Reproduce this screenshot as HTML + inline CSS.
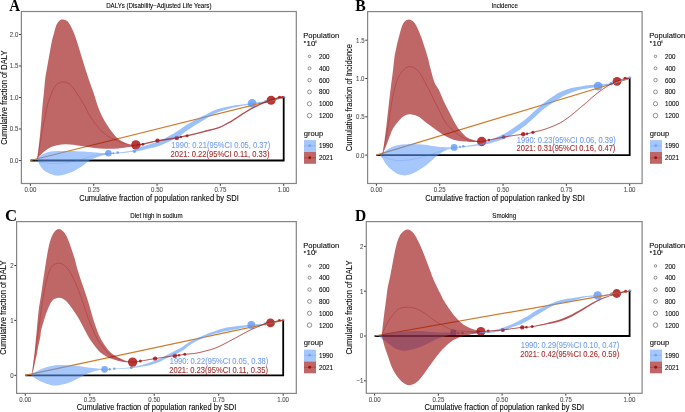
<!DOCTYPE html>
<html><head><meta charset="utf-8"><style>
html,body{margin:0;padding:0;background:#fff;width:685px;height:412px;overflow:hidden;}
svg{display:block;will-change:transform;font-family:"Liberation Sans",sans-serif;}
</style></head><body>
<svg width="685" height="412" viewBox="0 0 685 412">
<rect width="685" height="412" fill="#fff"/>
<clipPath id="clipA"><rect x="21.40" y="11.50" width="274.90" height="172.00"/></clipPath>
<g clip-path="url(#clipA)">
<circle cx="108.40" cy="153.30" r="3.30" fill="#7eacf9"/>
<circle cx="113.30" cy="153.20" r="1.00" fill="#7eacf9"/>
<circle cx="117.80" cy="152.60" r="1.30" fill="#7eacf9"/>
<circle cx="134.40" cy="151.20" r="1.70" fill="#7eacf9"/>
<circle cx="252.10" cy="103.30" r="4.30" fill="#7eacf9"/>
<circle cx="265.70" cy="101.50" r="1.60" fill="#7eacf9"/>
<circle cx="283.80" cy="97.20" r="1.50" fill="#7eacf9"/>
<circle cx="135.90" cy="144.90" r="4.70" fill="#b83838"/>
<circle cx="142.90" cy="144.30" r="1.40" fill="#b83838"/>
<circle cx="157.50" cy="140.70" r="2.20" fill="#b83838"/>
<circle cx="176.80" cy="137.90" r="2.20" fill="#b83838"/>
<circle cx="180.80" cy="136.90" r="1.20" fill="#b83838"/>
<circle cx="187.10" cy="135.70" r="1.50" fill="#b83838"/>
<circle cx="271.10" cy="100.20" r="4.50" fill="#b83838"/>
<circle cx="279.50" cy="97.30" r="1.60" fill="#b83838"/>
<circle cx="282.40" cy="97.30" r="1.20" fill="#b83838"/>
<polyline points="30.40,160.50 283.70,160.50 283.70,97.50" fill="none" stroke="#000" stroke-width="1.8" stroke-linejoin="miter"/>
<line x1="30.40" y1="160.50" x2="283.70" y2="97.50" stroke="#cf7a2c" stroke-width="1.25"/>
<path d="M34.80,160.20 C35.22,159.97 36.43,159.50 37.30,158.80 C38.17,158.10 38.88,156.87 40.00,156.00 C41.12,155.13 42.53,154.27 44.00,153.60 C45.47,152.93 46.55,152.42 48.80,152.00 C51.05,151.58 54.00,151.28 57.50,151.10 C61.00,150.92 65.42,150.83 69.80,150.90 C74.18,150.97 80.02,151.27 83.80,151.50 C87.58,151.73 89.68,152.07 92.50,152.30 C95.32,152.53 98.03,152.78 100.70,152.90 C103.37,153.02 105.62,153.07 108.50,153.00 C111.38,152.93 114.75,152.78 118.00,152.50 C121.25,152.22 125.33,151.73 128.00,151.30 C130.67,150.87 132.00,150.57 134.00,149.90 C136.00,149.23 137.33,148.25 140.00,147.30 C142.67,146.35 147.12,145.08 150.00,144.20 C152.88,143.32 154.87,142.93 157.30,142.00 C159.73,141.07 162.18,139.83 164.60,138.60 C167.02,137.37 169.23,136.13 171.80,134.60 C174.37,133.07 177.63,130.97 180.00,129.40 C182.37,127.83 184.00,126.48 186.00,125.20 C188.00,123.92 190.00,122.80 192.00,121.70 C194.00,120.60 196.03,119.62 198.00,118.60 C199.97,117.58 201.80,116.63 203.80,115.60 C205.80,114.57 207.30,113.57 210.00,112.40 C212.70,111.23 216.67,109.63 220.00,108.60 C223.33,107.57 226.67,106.83 230.00,106.20 C233.33,105.57 237.00,105.22 240.00,104.80 C243.00,104.38 245.33,104.07 248.00,103.70 C250.67,103.33 253.00,103.05 256.00,102.60 C259.00,102.15 262.83,101.57 266.00,101.00 C269.17,100.43 272.05,99.85 275.00,99.20 C277.95,98.55 282.25,97.45 283.70,97.10 L283.70,97.50 C282.25,97.88 277.95,99.05 275.00,99.80 C272.05,100.55 269.17,101.37 266.00,102.00 C262.83,102.63 259.00,103.08 256.00,103.60 C253.00,104.12 250.67,104.65 248.00,105.10 C245.33,105.55 243.00,105.73 240.00,106.30 C237.00,106.87 233.33,107.62 230.00,108.50 C226.67,109.38 223.33,110.32 220.00,111.60 C216.67,112.88 212.70,114.80 210.00,116.20 C207.30,117.60 205.80,118.80 203.80,120.00 C201.80,121.20 199.97,122.20 198.00,123.40 C196.03,124.60 194.00,125.88 192.00,127.20 C190.00,128.52 188.00,129.85 186.00,131.30 C184.00,132.75 182.37,134.40 180.00,135.90 C177.63,137.40 174.37,139.05 171.80,140.30 C169.23,141.55 167.02,142.37 164.60,143.40 C162.18,144.43 159.73,145.68 157.30,146.50 C154.87,147.32 152.88,147.60 150.00,148.30 C147.12,149.00 142.67,150.15 140.00,150.70 C137.33,151.25 136.00,151.32 134.00,151.60 C132.00,151.88 130.67,152.10 128.00,152.40 C125.33,152.70 121.25,153.10 118.00,153.40 C114.75,153.70 110.83,153.90 108.50,154.20 C106.17,154.50 105.85,154.72 104.00,155.20 C102.15,155.68 99.90,156.17 97.40,157.10 C94.90,158.03 91.27,159.47 89.00,160.80 C86.73,162.13 85.30,163.97 83.80,165.10 C82.30,166.23 81.47,166.72 80.00,167.60 C78.53,168.48 77.28,169.33 75.00,170.40 C72.72,171.47 68.63,173.18 66.30,174.00 C63.97,174.82 62.75,175.05 61.00,175.30 C59.25,175.55 57.83,175.85 55.80,175.50 C53.77,175.15 50.77,174.03 48.80,173.20 C46.83,172.37 45.47,171.78 44.00,170.50 C42.53,169.22 40.92,166.92 40.00,165.50 C39.08,164.08 38.95,162.88 38.50,162.00 C38.05,161.12 37.92,160.43 37.30,160.20 C36.68,159.97 35.22,160.53 34.80,160.60 Z" fill="#5f9bf8" fill-opacity="0.560"/>
<clipPath id="bxA"><rect x="136.00" y="11.50" width="160.30" height="172.00"/></clipPath>
<path d="M34.80,160.20 C35.22,159.97 36.43,159.50 37.30,158.80 C38.17,158.10 38.88,156.87 40.00,156.00 C41.12,155.13 42.53,154.27 44.00,153.60 C45.47,152.93 46.55,152.42 48.80,152.00 C51.05,151.58 54.00,151.28 57.50,151.10 C61.00,150.92 65.42,150.83 69.80,150.90 C74.18,150.97 80.02,151.27 83.80,151.50 C87.58,151.73 89.68,152.07 92.50,152.30 C95.32,152.53 98.03,152.78 100.70,152.90 C103.37,153.02 105.62,153.07 108.50,153.00 C111.38,152.93 114.75,152.78 118.00,152.50 C121.25,152.22 125.33,151.73 128.00,151.30 C130.67,150.87 132.00,150.57 134.00,149.90 C136.00,149.23 137.33,148.25 140.00,147.30 C142.67,146.35 147.12,145.08 150.00,144.20 C152.88,143.32 154.87,142.93 157.30,142.00 C159.73,141.07 162.18,139.83 164.60,138.60 C167.02,137.37 169.23,136.13 171.80,134.60 C174.37,133.07 177.63,130.97 180.00,129.40 C182.37,127.83 184.00,126.48 186.00,125.20 C188.00,123.92 190.00,122.80 192.00,121.70 C194.00,120.60 196.03,119.62 198.00,118.60 C199.97,117.58 201.80,116.63 203.80,115.60 C205.80,114.57 207.30,113.57 210.00,112.40 C212.70,111.23 216.67,109.63 220.00,108.60 C223.33,107.57 226.67,106.83 230.00,106.20 C233.33,105.57 237.00,105.22 240.00,104.80 C243.00,104.38 245.33,104.07 248.00,103.70 C250.67,103.33 253.00,103.05 256.00,102.60 C259.00,102.15 262.83,101.57 266.00,101.00 C269.17,100.43 272.05,99.85 275.00,99.20 C277.95,98.55 282.25,97.45 283.70,97.10 L283.70,97.50 C282.25,97.88 277.95,99.05 275.00,99.80 C272.05,100.55 269.17,101.37 266.00,102.00 C262.83,102.63 259.00,103.08 256.00,103.60 C253.00,104.12 250.67,104.65 248.00,105.10 C245.33,105.55 243.00,105.73 240.00,106.30 C237.00,106.87 233.33,107.62 230.00,108.50 C226.67,109.38 223.33,110.32 220.00,111.60 C216.67,112.88 212.70,114.80 210.00,116.20 C207.30,117.60 205.80,118.80 203.80,120.00 C201.80,121.20 199.97,122.20 198.00,123.40 C196.03,124.60 194.00,125.88 192.00,127.20 C190.00,128.52 188.00,129.85 186.00,131.30 C184.00,132.75 182.37,134.40 180.00,135.90 C177.63,137.40 174.37,139.05 171.80,140.30 C169.23,141.55 167.02,142.37 164.60,143.40 C162.18,144.43 159.73,145.68 157.30,146.50 C154.87,147.32 152.88,147.60 150.00,148.30 C147.12,149.00 142.67,150.15 140.00,150.70 C137.33,151.25 136.00,151.32 134.00,151.60 C132.00,151.88 130.67,152.10 128.00,152.40 C125.33,152.70 121.25,153.10 118.00,153.40 C114.75,153.70 110.83,153.90 108.50,154.20 C106.17,154.50 105.85,154.72 104.00,155.20 C102.15,155.68 99.90,156.17 97.40,157.10 C94.90,158.03 91.27,159.47 89.00,160.80 C86.73,162.13 85.30,163.97 83.80,165.10 C82.30,166.23 81.47,166.72 80.00,167.60 C78.53,168.48 77.28,169.33 75.00,170.40 C72.72,171.47 68.63,173.18 66.30,174.00 C63.97,174.82 62.75,175.05 61.00,175.30 C59.25,175.55 57.83,175.85 55.80,175.50 C53.77,175.15 50.77,174.03 48.80,173.20 C46.83,172.37 45.47,171.78 44.00,170.50 C42.53,169.22 40.92,166.92 40.00,165.50 C39.08,164.08 38.95,162.88 38.50,162.00 C38.05,161.12 37.92,160.43 37.30,160.20 C36.68,159.97 35.22,160.53 34.80,160.60 Z" fill="#5f9bf8" fill-opacity="0.13" clip-path="url(#bxA)"/>
<path d="M37.30,158.80 C37.52,157.00 38.15,151.97 38.60,148.00 C39.05,144.03 39.62,138.83 40.00,135.00 C40.38,131.17 40.65,127.83 40.90,125.00 C41.15,122.17 41.25,120.98 41.50,118.00 C41.75,115.02 42.00,111.33 42.40,107.10 C42.80,102.87 43.42,97.45 43.90,92.60 C44.38,87.75 44.78,82.10 45.30,78.00 C45.82,73.90 46.42,71.33 47.00,68.00 C47.58,64.67 48.27,61.00 48.80,58.00 C49.33,55.00 49.70,52.75 50.20,50.00 C50.70,47.25 51.22,44.12 51.80,41.50 C52.38,38.88 52.98,36.92 53.70,34.30 C54.42,31.68 55.20,28.03 56.10,25.80 C57.00,23.57 57.95,21.95 59.10,20.90 C60.25,19.85 61.62,19.43 63.00,19.50 C64.38,19.57 66.03,20.05 67.40,21.30 C68.77,22.55 69.95,24.63 71.20,27.00 C72.45,29.37 73.68,32.27 74.90,35.50 C76.12,38.73 77.42,42.98 78.50,46.40 C79.58,49.82 80.20,52.07 81.40,56.00 C82.60,59.93 84.33,65.72 85.70,70.00 C87.07,74.28 88.32,77.98 89.60,81.70 C90.88,85.42 92.30,89.03 93.40,92.30 C94.50,95.57 95.30,98.52 96.20,101.30 C97.10,104.08 97.90,106.67 98.80,109.00 C99.70,111.33 100.60,113.25 101.60,115.30 C102.60,117.35 103.63,119.30 104.80,121.30 C105.97,123.30 107.43,125.55 108.60,127.30 C109.77,129.05 110.48,130.15 111.80,131.80 C113.12,133.45 114.83,135.63 116.50,137.20 C118.17,138.77 119.75,140.03 121.80,141.20 C123.85,142.37 126.70,143.53 128.80,144.20 C130.90,144.87 133.13,145.05 134.40,145.20 C135.67,145.35 136.07,145.12 136.40,145.10 L136.40,145.60 C135.27,145.85 132.62,146.63 129.60,147.10 C126.58,147.57 122.32,148.13 118.30,148.40 C114.28,148.67 109.52,148.78 105.50,148.70 C101.48,148.62 97.95,148.30 94.20,147.90 C90.45,147.50 86.47,146.83 83.00,146.30 C79.53,145.77 76.35,145.05 73.40,144.70 C70.45,144.35 67.98,144.12 65.30,144.20 C62.62,144.28 59.97,144.58 57.30,145.20 C54.63,145.82 51.72,146.65 49.30,147.90 C46.88,149.15 44.80,150.88 42.80,152.70 C40.80,154.52 38.22,157.78 37.30,158.80 Z" fill="#980a0a" fill-opacity="0.625"/>
<path d="M34.80,160.40 C35.67,160.70 37.80,161.73 40.00,162.20 C42.20,162.67 45.33,163.00 48.00,163.20 C50.67,163.40 53.33,163.43 56.00,163.40 C58.67,163.37 61.33,163.27 64.00,163.00 C66.67,162.73 69.33,162.33 72.00,161.80 C74.67,161.27 77.33,160.53 80.00,159.80 C82.67,159.07 85.33,158.13 88.00,157.40 C90.67,156.67 93.33,155.97 96.00,155.40 C98.67,154.83 101.93,154.32 104.00,154.00 C106.07,153.68 107.67,153.58 108.40,153.50" fill="none" stroke="#4f7fe0" stroke-width="0.6" stroke-opacity="0.35"/>
<path d="M136.40,145.10 C137.50,144.93 139.47,144.82 143.00,144.10 C146.53,143.38 151.95,141.85 157.60,140.80 C163.25,139.75 173.00,138.45 176.90,137.80 C180.80,137.15 179.30,137.25 181.00,136.90 C182.70,136.55 184.92,136.15 187.10,135.70 C189.28,135.25 191.32,134.88 194.10,134.20 C196.88,133.52 200.32,132.50 203.80,131.60 C207.28,130.70 212.30,129.53 215.00,128.80 C217.70,128.07 218.17,127.97 220.00,127.20 C221.83,126.43 223.98,125.27 226.00,124.20 C228.02,123.13 230.10,122.00 232.10,120.80 C234.10,119.60 235.97,118.32 238.00,117.00 C240.03,115.68 242.30,114.17 244.30,112.90 C246.30,111.63 247.98,110.52 250.00,109.40 C252.02,108.28 254.57,107.12 256.40,106.20 C258.23,105.28 259.38,104.63 261.00,103.90 C262.62,103.17 264.42,102.42 266.10,101.80 C267.78,101.18 268.87,100.93 271.10,100.20 C273.33,99.47 277.40,97.92 279.50,97.40 C281.60,96.88 283.00,97.15 283.70,97.10" fill="none" stroke="#980a0a" stroke-opacity="0.625" stroke-width="1.35"/>
<path d="M37.30,158.80 C37.67,156.83 38.80,150.97 39.50,147.00 C40.20,143.03 40.87,138.67 41.50,135.00 C42.13,131.33 42.73,127.83 43.30,125.00 C43.87,122.17 44.40,120.50 44.90,118.00 C45.40,115.50 45.73,112.62 46.30,110.00 C46.87,107.38 47.57,104.72 48.30,102.30 C49.03,99.88 49.82,97.77 50.70,95.50 C51.58,93.23 52.47,90.65 53.60,88.70 C54.73,86.75 55.88,84.93 57.50,83.80 C59.12,82.67 61.37,81.90 63.30,81.90 C65.23,81.90 67.48,82.83 69.10,83.80 C70.72,84.77 71.70,86.08 73.00,87.70 C74.30,89.32 75.73,91.75 76.90,93.50 C78.07,95.25 79.05,96.73 80.00,98.20 C80.95,99.67 81.70,100.80 82.60,102.30 C83.50,103.80 84.38,105.25 85.40,107.20 C86.42,109.15 87.30,111.62 88.70,114.00 C90.10,116.38 92.03,119.05 93.80,121.50 C95.57,123.95 97.52,126.68 99.30,128.70 C101.08,130.72 102.65,132.12 104.50,133.60 C106.35,135.08 107.95,136.28 110.40,137.60 C112.85,138.92 116.27,140.40 119.20,141.50 C122.13,142.60 125.13,143.60 128.00,144.20 C130.87,144.80 133.90,145.12 136.40,145.10 C138.90,145.08 139.47,144.82 143.00,144.10 C146.53,143.38 151.95,141.85 157.60,140.80 C163.25,139.75 173.00,138.45 176.90,137.80 C180.80,137.15 179.30,137.25 181.00,136.90 C182.70,136.55 184.92,136.15 187.10,135.70 C189.28,135.25 191.32,134.88 194.10,134.20 C196.88,133.52 200.32,132.50 203.80,131.60 C207.28,130.70 212.30,129.53 215.00,128.80 C217.70,128.07 218.17,127.97 220.00,127.20 C221.83,126.43 223.98,125.27 226.00,124.20 C228.02,123.13 230.10,122.00 232.10,120.80 C234.10,119.60 235.97,118.32 238.00,117.00 C240.03,115.68 242.30,114.17 244.30,112.90 C246.30,111.63 247.98,110.52 250.00,109.40 C252.02,108.28 254.57,107.12 256.40,106.20 C258.23,105.28 259.38,104.63 261.00,103.90 C262.62,103.17 264.42,102.42 266.10,101.80 C267.78,101.18 268.87,100.93 271.10,100.20 C273.33,99.47 277.40,97.92 279.50,97.40 C281.60,96.88 283.00,97.15 283.70,97.10" fill="none" stroke="#a82020" stroke-width="0.55" stroke-opacity="0.65"/>
</g>
<rect x="21.40" y="11.50" width="274.90" height="172.00" fill="none" stroke="#858585" stroke-width="1.2"/>
<line x1="19.10" y1="160.50" x2="20.90" y2="160.50" stroke="#333" stroke-width="1.0"/>
<text x="9.84" y="162.95" font-size="6.90" fill="#4d4d4d" stroke="#4d4d4d" stroke-width="0.08" textLength="8.49" lengthAdjust="spacingAndGlyphs">0.0</text>
<line x1="19.10" y1="129.00" x2="20.90" y2="129.00" stroke="#333" stroke-width="1.0"/>
<text x="9.86" y="131.45" font-size="6.90" fill="#4d4d4d" stroke="#4d4d4d" stroke-width="0.08" textLength="8.49" lengthAdjust="spacingAndGlyphs">0.5</text>
<line x1="19.10" y1="97.50" x2="20.90" y2="97.50" stroke="#333" stroke-width="1.0"/>
<text x="9.84" y="99.95" font-size="6.90" fill="#4d4d4d" stroke="#4d4d4d" stroke-width="0.08" textLength="8.49" lengthAdjust="spacingAndGlyphs">1.0</text>
<line x1="19.10" y1="66.00" x2="20.90" y2="66.00" stroke="#333" stroke-width="1.0"/>
<text x="9.86" y="68.45" font-size="6.90" fill="#4d4d4d" stroke="#4d4d4d" stroke-width="0.08" textLength="8.49" lengthAdjust="spacingAndGlyphs">1.5</text>
<line x1="19.10" y1="34.50" x2="20.90" y2="34.50" stroke="#333" stroke-width="1.0"/>
<text x="9.84" y="36.95" font-size="6.90" fill="#4d4d4d" stroke="#4d4d4d" stroke-width="0.08" textLength="8.49" lengthAdjust="spacingAndGlyphs">2.0</text>
<line x1="30.40" y1="184.00" x2="30.40" y2="185.80" stroke="#333" stroke-width="1.0"/>
<text x="24.46" y="191.80" font-size="6.90" fill="#4d4d4d" stroke="#4d4d4d" stroke-width="0.08" textLength="11.89" lengthAdjust="spacingAndGlyphs">0.00</text>
<line x1="93.72" y1="184.00" x2="93.72" y2="185.80" stroke="#333" stroke-width="1.0"/>
<text x="87.79" y="191.80" font-size="6.90" fill="#4d4d4d" stroke="#4d4d4d" stroke-width="0.08" textLength="11.89" lengthAdjust="spacingAndGlyphs">0.25</text>
<line x1="157.05" y1="184.00" x2="157.05" y2="185.80" stroke="#333" stroke-width="1.0"/>
<text x="151.11" y="191.80" font-size="6.90" fill="#4d4d4d" stroke="#4d4d4d" stroke-width="0.08" textLength="11.89" lengthAdjust="spacingAndGlyphs">0.50</text>
<line x1="220.38" y1="184.00" x2="220.38" y2="185.80" stroke="#333" stroke-width="1.0"/>
<text x="214.44" y="191.80" font-size="6.90" fill="#4d4d4d" stroke="#4d4d4d" stroke-width="0.08" textLength="11.89" lengthAdjust="spacingAndGlyphs">0.75</text>
<line x1="283.70" y1="184.00" x2="283.70" y2="185.80" stroke="#333" stroke-width="1.0"/>
<text x="277.64" y="191.80" font-size="6.90" fill="#4d4d4d" stroke="#4d4d4d" stroke-width="0.08" textLength="11.89" lengthAdjust="spacingAndGlyphs">1.00</text>
<text x="79.21" y="200.50" font-size="8.20" fill="#000" stroke="#000" stroke-width="0.08" textLength="159.60" lengthAdjust="spacingAndGlyphs">Cumulative fraction of population ranked by SDI</text>
<text x="-144.66" y="0" font-size="8.20" fill="#000" stroke="#000" stroke-width="0.08" textLength="94.10" lengthAdjust="spacingAndGlyphs" transform="translate(6.50 0) rotate(-90)">Cumulative fraction of DALY</text>
<text x="106.13" y="7.60" font-size="6.50" fill="#000" stroke="#000" stroke-width="0.08" textLength="105.33" lengthAdjust="spacingAndGlyphs">DALYs (Disability−Adjusted Life Years)</text>
<text x="9.16" y="10.80" font-size="16.00" fill="#000" font-family='"Liberation Serif", serif' font-weight="bold" textLength="10.84" lengthAdjust="spacingAndGlyphs">A</text>
<text x="171.33" y="147.80" font-size="8.20" fill="#6f9cf2" stroke="#6f9cf2" stroke-width="0.08" textLength="98.84" lengthAdjust="spacingAndGlyphs">1990: 0.21(95%CI 0.05, 0.37)</text>
<text x="170.62" y="156.70" font-size="8.20" fill="#a52a2a" stroke="#a52a2a" stroke-width="0.08" textLength="98.85" lengthAdjust="spacingAndGlyphs">2021: 0.22(95%CI 0.11, 0.33)</text>
<text x="303.28" y="38.10" font-size="7.70" fill="#000" stroke="#000" stroke-width="0.08" textLength="35.92" lengthAdjust="spacingAndGlyphs">Population</text>
<text x="303.85" y="45.10" font-size="5.6" fill="#000" stroke="#000" stroke-width="0.15">*</text>
<text x="306.60" y="45.50" font-size="6.30" fill="#000" stroke="#000" stroke-width="0.08" textLength="8.80" lengthAdjust="spacingAndGlyphs">10</text>
<text x="315.17" y="43.30" font-size="3.30" fill="#000" stroke="#000" stroke-width="0.08" textLength="1.44" lengthAdjust="spacingAndGlyphs">6</text>
<circle cx="309.50" cy="56.40" r="1.23" fill="none" stroke="#4a4a4a" stroke-width="0.6"/>
<text x="318.90" y="59.00" font-size="6.60" fill="#000" stroke="#000" stroke-width="0.08" textLength="10.52" lengthAdjust="spacingAndGlyphs">200</text>
<circle cx="309.50" cy="68.24" r="1.48" fill="none" stroke="#4a4a4a" stroke-width="0.6"/>
<text x="318.90" y="70.82" font-size="6.60" fill="#000" stroke="#000" stroke-width="0.08" textLength="10.52" lengthAdjust="spacingAndGlyphs">400</text>
<circle cx="309.50" cy="80.08" r="1.73" fill="none" stroke="#4a4a4a" stroke-width="0.6"/>
<text x="318.90" y="82.64" font-size="6.60" fill="#000" stroke="#000" stroke-width="0.08" textLength="10.52" lengthAdjust="spacingAndGlyphs">600</text>
<circle cx="309.50" cy="91.92" r="1.93" fill="none" stroke="#4a4a4a" stroke-width="0.6"/>
<text x="318.90" y="94.46" font-size="6.60" fill="#000" stroke="#000" stroke-width="0.08" textLength="10.52" lengthAdjust="spacingAndGlyphs">800</text>
<circle cx="309.50" cy="103.76" r="2.13" fill="none" stroke="#4a4a4a" stroke-width="0.6"/>
<text x="318.90" y="106.28" font-size="6.60" fill="#000" stroke="#000" stroke-width="0.08" textLength="14.02" lengthAdjust="spacingAndGlyphs">1000</text>
<circle cx="309.50" cy="115.60" r="2.28" fill="none" stroke="#4a4a4a" stroke-width="0.6"/>
<text x="318.90" y="118.10" font-size="6.60" fill="#000" stroke="#000" stroke-width="0.08" textLength="14.02" lengthAdjust="spacingAndGlyphs">1200</text>
<text x="303.68" y="135.80" font-size="7.70" fill="#000" stroke="#000" stroke-width="0.08" textLength="19.44" lengthAdjust="spacingAndGlyphs">group</text>
<rect x="304.00" y="140.10" width="12" height="11.9" fill="#5f9bf8" fill-opacity="0.560"/>
<rect x="304.00" y="152.00" width="12" height="11.8" fill="#980a0a" fill-opacity="0.625"/>
<line x1="304.00" y1="145.80" x2="316.00" y2="145.80" stroke="#4f7fe0" stroke-width="0.6" stroke-opacity="0.35"/>
<line x1="304.00" y1="157.80" x2="316.00" y2="157.80" stroke="#a82020" stroke-width="0.6" stroke-opacity="0.65"/>
<circle cx="309.70" cy="145.70" r="1.4" fill="#72a3f8"/>
<circle cx="309.70" cy="157.80" r="1.45" fill="#a01212"/>
<text x="318.90" y="148.20" font-size="6.60" fill="#000" stroke="#000" stroke-width="0.08" textLength="14.02" lengthAdjust="spacingAndGlyphs">1990</text>
<text x="318.90" y="160.00" font-size="6.60" fill="#000" stroke="#000" stroke-width="0.08" textLength="14.02" lengthAdjust="spacingAndGlyphs">2021</text>
<clipPath id="clipB"><rect x="367.60" y="11.60" width="274.50" height="171.90"/></clipPath>
<g clip-path="url(#clipB)">
<circle cx="454.10" cy="147.40" r="3.40" fill="#7eacf9"/>
<circle cx="460.00" cy="146.70" r="1.00" fill="#7eacf9"/>
<circle cx="463.40" cy="146.20" r="1.30" fill="#7eacf9"/>
<circle cx="480.50" cy="144.00" r="1.50" fill="#7eacf9"/>
<circle cx="598.10" cy="86.10" r="4.40" fill="#7eacf9"/>
<circle cx="611.20" cy="83.60" r="1.80" fill="#7eacf9"/>
<circle cx="629.80" cy="77.80" r="1.50" fill="#7eacf9"/>
<circle cx="481.70" cy="141.50" r="4.70" fill="#b83838"/>
<circle cx="488.90" cy="140.00" r="1.30" fill="#b83838"/>
<circle cx="503.50" cy="137.10" r="2.00" fill="#b83838"/>
<circle cx="523.20" cy="134.20" r="2.20" fill="#b83838"/>
<circle cx="527.10" cy="133.80" r="1.20" fill="#b83838"/>
<circle cx="532.90" cy="132.30" r="1.60" fill="#b83838"/>
<circle cx="617.00" cy="81.30" r="4.40" fill="#b83838"/>
<circle cx="625.00" cy="78.40" r="1.60" fill="#b83838"/>
<circle cx="627.00" cy="78.60" r="1.20" fill="#b83838"/>
<polyline points="376.40,155.10 629.70,155.10 629.70,78.50" fill="none" stroke="#000" stroke-width="1.8" stroke-linejoin="miter"/>
<line x1="376.40" y1="155.10" x2="629.70" y2="78.50" stroke="#cf7a2c" stroke-width="1.25"/>
<path d="M380.10,155.30 C380.62,154.88 381.33,154.15 383.20,152.80 C385.07,151.45 388.25,148.57 391.30,147.20 C394.35,145.83 398.08,145.15 401.50,144.60 C404.92,144.05 408.38,143.90 411.80,143.90 C415.22,143.90 418.60,144.27 422.00,144.60 C425.40,144.93 428.70,145.48 432.20,145.90 C435.70,146.32 439.78,146.85 443.00,147.10 C446.22,147.35 449.65,147.37 451.50,147.40 C453.35,147.43 452.12,147.50 454.10,147.30 C456.08,147.10 460.75,146.53 463.40,146.20 C466.05,145.87 467.73,145.63 470.00,145.30 C472.27,144.97 474.57,144.68 477.00,144.20 C479.43,143.72 482.27,143.10 484.60,142.40 C486.93,141.70 488.58,141.02 491.00,140.00 C493.42,138.98 496.28,137.68 499.10,136.30 C501.92,134.92 504.98,133.47 507.90,131.70 C510.82,129.93 513.70,127.73 516.60,125.70 C519.50,123.67 522.38,121.85 525.30,119.50 C528.22,117.15 531.65,113.80 534.10,111.60 C536.55,109.40 538.18,107.90 540.00,106.30 C541.82,104.70 543.38,103.28 545.00,102.00 C546.62,100.72 548.12,99.70 549.70,98.60 C551.28,97.50 552.88,96.40 554.50,95.40 C556.12,94.40 557.82,93.42 559.40,92.60 C560.98,91.78 562.38,91.15 564.00,90.50 C565.62,89.85 567.43,89.18 569.10,88.70 C570.77,88.22 572.38,87.93 574.00,87.60 C575.62,87.27 577.22,86.98 578.80,86.70 C580.38,86.42 581.88,86.13 583.50,85.90 C585.12,85.67 586.68,85.48 588.50,85.30 C590.32,85.12 592.82,84.93 594.40,84.80 C595.98,84.67 595.20,84.75 598.00,84.50 C600.80,84.25 607.53,83.97 611.20,83.30 C614.87,82.63 616.92,81.42 620.00,80.50 C623.08,79.58 628.08,78.25 629.70,77.80 L629.70,78.60 C628.08,79.08 623.08,80.57 620.00,81.50 C616.92,82.43 614.87,83.35 611.20,84.20 C607.53,85.05 600.80,86.10 598.00,86.60 C595.20,87.10 595.98,86.93 594.40,87.20 C592.82,87.47 590.32,87.90 588.50,88.20 C586.68,88.50 585.12,88.68 583.50,89.00 C581.88,89.32 580.38,89.67 578.80,90.10 C577.22,90.53 575.62,91.03 574.00,91.60 C572.38,92.17 570.77,92.80 569.10,93.50 C567.43,94.20 565.62,94.98 564.00,95.80 C562.38,96.62 560.98,97.47 559.40,98.40 C557.82,99.33 556.12,100.35 554.50,101.40 C552.88,102.45 551.28,103.60 549.70,104.70 C548.12,105.80 546.62,106.73 545.00,108.00 C543.38,109.27 541.82,110.67 540.00,112.30 C538.18,113.93 536.55,115.62 534.10,117.80 C531.65,119.98 528.22,123.07 525.30,125.40 C522.38,127.73 519.50,129.87 516.60,131.80 C513.70,133.73 510.82,135.53 507.90,137.00 C504.98,138.47 501.92,139.60 499.10,140.60 C496.28,141.60 493.42,142.37 491.00,143.00 C488.58,143.63 486.93,143.93 484.60,144.40 C482.27,144.87 479.43,145.43 477.00,145.80 C474.57,146.17 472.27,146.37 470.00,146.60 C467.73,146.83 466.33,146.92 463.40,147.20 C460.47,147.48 455.23,147.87 452.40,148.30 C449.57,148.73 448.92,148.55 446.40,149.80 C443.88,151.05 440.52,153.35 437.30,155.80 C434.08,158.25 430.50,161.93 427.10,164.50 C423.70,167.07 419.97,169.50 416.90,171.20 C413.83,172.90 411.08,174.02 408.70,174.70 C406.32,175.38 404.65,175.55 402.60,175.30 C400.55,175.05 398.28,174.15 396.40,173.20 C394.52,172.25 393.00,171.05 391.30,169.60 C389.60,168.15 387.55,166.20 386.20,164.50 C384.85,162.80 384.22,160.93 383.20,159.40 C382.18,157.87 380.62,155.98 380.10,155.30 Z" fill="#5f9bf8" fill-opacity="0.560"/>
<clipPath id="bxB"><rect x="482.00" y="11.60" width="160.10" height="171.90"/></clipPath>
<path d="M380.10,155.30 C380.62,154.88 381.33,154.15 383.20,152.80 C385.07,151.45 388.25,148.57 391.30,147.20 C394.35,145.83 398.08,145.15 401.50,144.60 C404.92,144.05 408.38,143.90 411.80,143.90 C415.22,143.90 418.60,144.27 422.00,144.60 C425.40,144.93 428.70,145.48 432.20,145.90 C435.70,146.32 439.78,146.85 443.00,147.10 C446.22,147.35 449.65,147.37 451.50,147.40 C453.35,147.43 452.12,147.50 454.10,147.30 C456.08,147.10 460.75,146.53 463.40,146.20 C466.05,145.87 467.73,145.63 470.00,145.30 C472.27,144.97 474.57,144.68 477.00,144.20 C479.43,143.72 482.27,143.10 484.60,142.40 C486.93,141.70 488.58,141.02 491.00,140.00 C493.42,138.98 496.28,137.68 499.10,136.30 C501.92,134.92 504.98,133.47 507.90,131.70 C510.82,129.93 513.70,127.73 516.60,125.70 C519.50,123.67 522.38,121.85 525.30,119.50 C528.22,117.15 531.65,113.80 534.10,111.60 C536.55,109.40 538.18,107.90 540.00,106.30 C541.82,104.70 543.38,103.28 545.00,102.00 C546.62,100.72 548.12,99.70 549.70,98.60 C551.28,97.50 552.88,96.40 554.50,95.40 C556.12,94.40 557.82,93.42 559.40,92.60 C560.98,91.78 562.38,91.15 564.00,90.50 C565.62,89.85 567.43,89.18 569.10,88.70 C570.77,88.22 572.38,87.93 574.00,87.60 C575.62,87.27 577.22,86.98 578.80,86.70 C580.38,86.42 581.88,86.13 583.50,85.90 C585.12,85.67 586.68,85.48 588.50,85.30 C590.32,85.12 592.82,84.93 594.40,84.80 C595.98,84.67 595.20,84.75 598.00,84.50 C600.80,84.25 607.53,83.97 611.20,83.30 C614.87,82.63 616.92,81.42 620.00,80.50 C623.08,79.58 628.08,78.25 629.70,77.80 L629.70,78.60 C628.08,79.08 623.08,80.57 620.00,81.50 C616.92,82.43 614.87,83.35 611.20,84.20 C607.53,85.05 600.80,86.10 598.00,86.60 C595.20,87.10 595.98,86.93 594.40,87.20 C592.82,87.47 590.32,87.90 588.50,88.20 C586.68,88.50 585.12,88.68 583.50,89.00 C581.88,89.32 580.38,89.67 578.80,90.10 C577.22,90.53 575.62,91.03 574.00,91.60 C572.38,92.17 570.77,92.80 569.10,93.50 C567.43,94.20 565.62,94.98 564.00,95.80 C562.38,96.62 560.98,97.47 559.40,98.40 C557.82,99.33 556.12,100.35 554.50,101.40 C552.88,102.45 551.28,103.60 549.70,104.70 C548.12,105.80 546.62,106.73 545.00,108.00 C543.38,109.27 541.82,110.67 540.00,112.30 C538.18,113.93 536.55,115.62 534.10,117.80 C531.65,119.98 528.22,123.07 525.30,125.40 C522.38,127.73 519.50,129.87 516.60,131.80 C513.70,133.73 510.82,135.53 507.90,137.00 C504.98,138.47 501.92,139.60 499.10,140.60 C496.28,141.60 493.42,142.37 491.00,143.00 C488.58,143.63 486.93,143.93 484.60,144.40 C482.27,144.87 479.43,145.43 477.00,145.80 C474.57,146.17 472.27,146.37 470.00,146.60 C467.73,146.83 466.33,146.92 463.40,147.20 C460.47,147.48 455.23,147.87 452.40,148.30 C449.57,148.73 448.92,148.55 446.40,149.80 C443.88,151.05 440.52,153.35 437.30,155.80 C434.08,158.25 430.50,161.93 427.10,164.50 C423.70,167.07 419.97,169.50 416.90,171.20 C413.83,172.90 411.08,174.02 408.70,174.70 C406.32,175.38 404.65,175.55 402.60,175.30 C400.55,175.05 398.28,174.15 396.40,173.20 C394.52,172.25 393.00,171.05 391.30,169.60 C389.60,168.15 387.55,166.20 386.20,164.50 C384.85,162.80 384.22,160.93 383.20,159.40 C382.18,157.87 380.62,155.98 380.10,155.30 Z" fill="#5f9bf8" fill-opacity="0.13" clip-path="url(#bxB)"/>
<path d="M382.70,153.90 C383.02,151.58 383.97,144.82 384.60,140.00 C385.23,135.18 385.83,130.67 386.50,125.00 C387.17,119.33 387.92,112.00 388.60,106.00 C389.28,100.00 389.90,94.67 390.60,89.00 C391.30,83.33 392.15,77.33 392.80,72.00 C393.45,66.67 394.03,60.47 394.50,57.00 C394.97,53.53 395.12,53.57 395.60,51.20 C396.08,48.83 396.78,45.42 397.40,42.80 C398.02,40.18 398.58,38.13 399.30,35.50 C400.02,32.87 400.80,29.33 401.70,27.00 C402.60,24.67 403.48,22.75 404.70,21.50 C405.92,20.25 407.48,19.40 409.00,19.50 C410.52,19.60 412.38,20.65 413.80,22.10 C415.22,23.55 416.28,25.77 417.50,28.20 C418.72,30.63 419.90,33.47 421.10,36.70 C422.30,39.93 423.52,43.88 424.70,47.60 C425.88,51.32 427.23,55.50 428.20,59.00 C429.17,62.50 429.47,64.73 430.50,68.60 C431.53,72.47 433.00,78.63 434.40,82.20 C435.80,85.77 437.30,86.75 438.90,90.00 C440.50,93.25 442.30,98.07 444.00,101.70 C445.70,105.33 447.52,108.65 449.10,111.80 C450.68,114.95 452.03,117.92 453.50,120.60 C454.97,123.28 456.32,125.72 457.90,127.90 C459.48,130.08 461.30,132.00 463.00,133.70 C464.70,135.40 466.28,137.02 468.10,138.10 C469.92,139.18 472.20,139.72 473.90,140.20 C475.60,140.68 477.03,140.82 478.30,141.00 C479.57,141.18 480.97,141.25 481.50,141.30 L481.50,141.60 C480.75,141.65 478.88,141.83 477.00,141.90 C475.12,141.97 473.03,142.15 470.20,142.00 C467.37,141.85 463.12,141.52 460.00,141.00 C456.88,140.48 454.33,139.95 451.50,138.90 C448.67,137.85 445.83,136.40 443.00,134.70 C440.17,133.00 437.33,130.73 434.50,128.70 C431.67,126.67 428.57,124.45 426.00,122.50 C423.43,120.55 421.10,118.25 419.10,117.00 C417.10,115.75 415.68,115.47 414.00,115.00 C412.32,114.53 410.67,114.03 409.00,114.20 C407.33,114.37 405.58,115.03 404.00,116.00 C402.42,116.97 400.93,118.50 399.50,120.00 C398.07,121.50 396.65,123.27 395.40,125.00 C394.15,126.73 393.42,127.23 392.00,130.40 C390.58,133.57 388.45,140.08 386.90,144.00 C385.35,147.92 383.40,152.25 382.70,153.90 Z" fill="#980a0a" fill-opacity="0.625"/>
<path d="M380.10,155.30 C381.42,155.83 385.52,157.67 388.00,158.50 C390.48,159.33 392.75,159.95 395.00,160.30 C397.25,160.65 399.00,160.68 401.50,160.60 C404.00,160.52 406.92,160.30 410.00,159.80 C413.08,159.30 416.67,158.47 420.00,157.60 C423.33,156.73 426.67,155.62 430.00,154.60 C433.33,153.58 437.33,152.27 440.00,151.50 C442.67,150.73 443.65,150.68 446.00,150.00 C448.35,149.32 452.75,147.83 454.10,147.40" fill="none" stroke="#4f7fe0" stroke-width="0.6" stroke-opacity="0.35"/>
<path d="M481.50,141.50 C482.73,141.25 485.23,140.73 488.90,140.00 C492.57,139.27 497.78,138.07 503.50,137.10 C509.22,136.13 519.27,134.75 523.20,134.20 C527.13,133.65 525.48,134.12 527.10,133.80 C528.72,133.48 530.28,132.95 532.90,132.30 C535.52,131.65 539.70,130.82 542.80,129.90 C545.90,128.98 548.63,127.95 551.50,126.80 C554.37,125.65 557.37,124.42 560.00,123.00 C562.63,121.58 564.87,120.05 567.30,118.30 C569.73,116.55 572.18,114.48 574.60,112.50 C577.02,110.52 579.90,107.98 581.80,106.40 C583.70,104.82 584.25,104.53 586.00,103.00 C587.75,101.47 590.03,99.13 592.30,97.20 C594.57,95.27 597.42,93.03 599.60,91.40 C601.78,89.77 603.72,88.50 605.40,87.40 C607.08,86.30 608.43,85.50 609.70,84.80 C610.97,84.10 611.78,83.78 613.00,83.20 C614.22,82.62 615.00,82.07 617.00,81.30 C619.00,80.53 622.88,79.08 625.00,78.60 C627.12,78.12 628.92,78.43 629.70,78.40" fill="none" stroke="#980a0a" stroke-opacity="0.625" stroke-width="0.75"/>
<path d="M382.70,153.90 C383.17,151.58 384.55,144.82 385.50,140.00 C386.45,135.18 387.47,130.67 388.40,125.00 C389.33,119.33 389.93,112.57 391.10,106.00 C392.27,99.43 393.83,90.98 395.40,85.60 C396.97,80.22 398.23,76.88 400.50,73.70 C402.77,70.52 406.03,66.93 409.00,66.50 C411.97,66.07 415.48,68.20 418.30,71.10 C421.12,74.00 423.50,79.52 425.90,83.90 C428.30,88.28 430.43,92.88 432.70,97.40 C434.97,101.92 437.37,106.85 439.50,111.00 C441.63,115.15 443.75,119.55 445.50,122.30 C447.25,125.05 448.15,125.63 450.00,127.50 C451.85,129.37 453.80,131.50 456.60,133.50 C459.40,135.50 463.40,138.18 466.80,139.50 C470.20,140.82 474.55,141.07 477.00,141.40 C479.45,141.73 479.52,141.73 481.50,141.50 C483.48,141.27 485.23,140.73 488.90,140.00 C492.57,139.27 497.78,138.07 503.50,137.10 C509.22,136.13 519.27,134.75 523.20,134.20 C527.13,133.65 525.48,134.12 527.10,133.80 C528.72,133.48 530.28,132.95 532.90,132.30 C535.52,131.65 539.70,130.82 542.80,129.90 C545.90,128.98 548.63,127.95 551.50,126.80 C554.37,125.65 557.37,124.42 560.00,123.00 C562.63,121.58 564.87,120.05 567.30,118.30 C569.73,116.55 572.18,114.48 574.60,112.50 C577.02,110.52 579.90,107.98 581.80,106.40 C583.70,104.82 584.25,104.53 586.00,103.00 C587.75,101.47 590.03,99.13 592.30,97.20 C594.57,95.27 597.42,93.03 599.60,91.40 C601.78,89.77 603.72,88.50 605.40,87.40 C607.08,86.30 608.43,85.50 609.70,84.80 C610.97,84.10 611.78,83.78 613.00,83.20 C614.22,82.62 615.00,82.07 617.00,81.30 C619.00,80.53 622.88,79.08 625.00,78.60 C627.12,78.12 628.92,78.43 629.70,78.40" fill="none" stroke="#a82020" stroke-width="0.55" stroke-opacity="0.65"/>
</g>
<rect x="367.60" y="11.60" width="274.50" height="171.90" fill="none" stroke="#858585" stroke-width="1.2"/>
<line x1="365.30" y1="155.10" x2="367.10" y2="155.10" stroke="#333" stroke-width="1.0"/>
<text x="356.04" y="157.55" font-size="6.90" fill="#4d4d4d" stroke="#4d4d4d" stroke-width="0.08" textLength="8.49" lengthAdjust="spacingAndGlyphs">0.0</text>
<line x1="365.30" y1="116.80" x2="367.10" y2="116.80" stroke="#333" stroke-width="1.0"/>
<text x="356.06" y="119.25" font-size="6.90" fill="#4d4d4d" stroke="#4d4d4d" stroke-width="0.08" textLength="8.49" lengthAdjust="spacingAndGlyphs">0.5</text>
<line x1="365.30" y1="78.50" x2="367.10" y2="78.50" stroke="#333" stroke-width="1.0"/>
<text x="356.04" y="80.95" font-size="6.90" fill="#4d4d4d" stroke="#4d4d4d" stroke-width="0.08" textLength="8.49" lengthAdjust="spacingAndGlyphs">1.0</text>
<line x1="365.30" y1="40.20" x2="367.10" y2="40.20" stroke="#333" stroke-width="1.0"/>
<text x="356.06" y="42.65" font-size="6.90" fill="#4d4d4d" stroke="#4d4d4d" stroke-width="0.08" textLength="8.49" lengthAdjust="spacingAndGlyphs">1.5</text>
<line x1="376.40" y1="184.00" x2="376.40" y2="185.80" stroke="#333" stroke-width="1.0"/>
<text x="370.46" y="191.80" font-size="6.90" fill="#4d4d4d" stroke="#4d4d4d" stroke-width="0.08" textLength="11.89" lengthAdjust="spacingAndGlyphs">0.00</text>
<line x1="439.73" y1="184.00" x2="439.73" y2="185.80" stroke="#333" stroke-width="1.0"/>
<text x="433.79" y="191.80" font-size="6.90" fill="#4d4d4d" stroke="#4d4d4d" stroke-width="0.08" textLength="11.89" lengthAdjust="spacingAndGlyphs">0.25</text>
<line x1="503.05" y1="184.00" x2="503.05" y2="185.80" stroke="#333" stroke-width="1.0"/>
<text x="497.11" y="191.80" font-size="6.90" fill="#4d4d4d" stroke="#4d4d4d" stroke-width="0.08" textLength="11.89" lengthAdjust="spacingAndGlyphs">0.50</text>
<line x1="566.38" y1="184.00" x2="566.38" y2="185.80" stroke="#333" stroke-width="1.0"/>
<text x="560.44" y="191.80" font-size="6.90" fill="#4d4d4d" stroke="#4d4d4d" stroke-width="0.08" textLength="11.89" lengthAdjust="spacingAndGlyphs">0.75</text>
<line x1="629.70" y1="184.00" x2="629.70" y2="185.80" stroke="#333" stroke-width="1.0"/>
<text x="623.64" y="191.80" font-size="6.90" fill="#4d4d4d" stroke="#4d4d4d" stroke-width="0.08" textLength="11.89" lengthAdjust="spacingAndGlyphs">1.00</text>
<text x="425.21" y="200.50" font-size="8.20" fill="#000" stroke="#000" stroke-width="0.08" textLength="159.60" lengthAdjust="spacingAndGlyphs">Cumulative fraction of population ranked by SDI</text>
<text x="-151.19" y="0" font-size="8.20" fill="#000" stroke="#000" stroke-width="0.08" textLength="107.23" lengthAdjust="spacingAndGlyphs" transform="translate(351.80 0) rotate(-90)">Cumulative fraction of Incidence</text>
<text x="491.54" y="7.70" font-size="6.50" fill="#000" stroke="#000" stroke-width="0.08" textLength="26.32" lengthAdjust="spacingAndGlyphs">Incidence</text>
<text x="355.35" y="10.80" font-size="16.00" fill="#000" font-family='"Liberation Serif", serif' font-weight="bold" textLength="10.48" lengthAdjust="spacingAndGlyphs">B</text>
<text x="516.83" y="142.70" font-size="8.20" fill="#6f9cf2" stroke="#6f9cf2" stroke-width="0.08" textLength="98.84" lengthAdjust="spacingAndGlyphs">1990: 0.23(95%CI 0.06, 0.39)</text>
<text x="516.52" y="151.00" font-size="8.20" fill="#a52a2a" stroke="#a52a2a" stroke-width="0.08" textLength="98.84" lengthAdjust="spacingAndGlyphs">2021: 0.31(95%CI 0.16, 0.47)</text>
<text x="649.28" y="38.10" font-size="7.70" fill="#000" stroke="#000" stroke-width="0.08" textLength="35.92" lengthAdjust="spacingAndGlyphs">Population</text>
<text x="649.85" y="45.10" font-size="5.6" fill="#000" stroke="#000" stroke-width="0.15">*</text>
<text x="652.60" y="45.50" font-size="6.30" fill="#000" stroke="#000" stroke-width="0.08" textLength="8.80" lengthAdjust="spacingAndGlyphs">10</text>
<text x="661.17" y="43.30" font-size="3.30" fill="#000" stroke="#000" stroke-width="0.08" textLength="1.44" lengthAdjust="spacingAndGlyphs">6</text>
<circle cx="655.50" cy="56.40" r="1.23" fill="none" stroke="#4a4a4a" stroke-width="0.6"/>
<text x="664.90" y="59.00" font-size="6.60" fill="#000" stroke="#000" stroke-width="0.08" textLength="10.52" lengthAdjust="spacingAndGlyphs">200</text>
<circle cx="655.50" cy="68.24" r="1.48" fill="none" stroke="#4a4a4a" stroke-width="0.6"/>
<text x="664.90" y="70.82" font-size="6.60" fill="#000" stroke="#000" stroke-width="0.08" textLength="10.52" lengthAdjust="spacingAndGlyphs">400</text>
<circle cx="655.50" cy="80.08" r="1.73" fill="none" stroke="#4a4a4a" stroke-width="0.6"/>
<text x="664.90" y="82.64" font-size="6.60" fill="#000" stroke="#000" stroke-width="0.08" textLength="10.52" lengthAdjust="spacingAndGlyphs">600</text>
<circle cx="655.50" cy="91.92" r="1.93" fill="none" stroke="#4a4a4a" stroke-width="0.6"/>
<text x="664.90" y="94.46" font-size="6.60" fill="#000" stroke="#000" stroke-width="0.08" textLength="10.52" lengthAdjust="spacingAndGlyphs">800</text>
<circle cx="655.50" cy="103.76" r="2.13" fill="none" stroke="#4a4a4a" stroke-width="0.6"/>
<text x="664.90" y="106.28" font-size="6.60" fill="#000" stroke="#000" stroke-width="0.08" textLength="14.02" lengthAdjust="spacingAndGlyphs">1000</text>
<circle cx="655.50" cy="115.60" r="2.28" fill="none" stroke="#4a4a4a" stroke-width="0.6"/>
<text x="664.90" y="118.10" font-size="6.60" fill="#000" stroke="#000" stroke-width="0.08" textLength="14.02" lengthAdjust="spacingAndGlyphs">1200</text>
<text x="649.68" y="135.80" font-size="7.70" fill="#000" stroke="#000" stroke-width="0.08" textLength="19.44" lengthAdjust="spacingAndGlyphs">group</text>
<rect x="650.00" y="140.10" width="12" height="11.9" fill="#5f9bf8" fill-opacity="0.560"/>
<rect x="650.00" y="152.00" width="12" height="11.8" fill="#980a0a" fill-opacity="0.625"/>
<line x1="650.00" y1="145.80" x2="662.00" y2="145.80" stroke="#4f7fe0" stroke-width="0.6" stroke-opacity="0.35"/>
<line x1="650.00" y1="157.80" x2="662.00" y2="157.80" stroke="#a82020" stroke-width="0.6" stroke-opacity="0.65"/>
<circle cx="655.70" cy="145.70" r="1.4" fill="#72a3f8"/>
<circle cx="655.70" cy="157.80" r="1.45" fill="#a01212"/>
<text x="664.90" y="148.20" font-size="6.60" fill="#000" stroke="#000" stroke-width="0.08" textLength="14.02" lengthAdjust="spacingAndGlyphs">1990</text>
<text x="664.90" y="160.00" font-size="6.60" fill="#000" stroke="#000" stroke-width="0.08" textLength="14.02" lengthAdjust="spacingAndGlyphs">2021</text>
<clipPath id="clipC"><rect x="16.60" y="221.60" width="279.70" height="171.80"/></clipPath>
<g clip-path="url(#clipC)">
<circle cx="104.60" cy="369.30" r="3.40" fill="#7eacf9"/>
<circle cx="109.70" cy="369.30" r="1.20" fill="#7eacf9"/>
<circle cx="114.30" cy="368.80" r="1.30" fill="#7eacf9"/>
<circle cx="131.30" cy="367.60" r="1.50" fill="#7eacf9"/>
<circle cx="251.30" cy="325.00" r="3.90" fill="#7eacf9"/>
<circle cx="265.10" cy="323.90" r="1.60" fill="#7eacf9"/>
<circle cx="283.20" cy="320.10" r="1.40" fill="#7eacf9"/>
<circle cx="132.60" cy="362.10" r="4.70" fill="#b83838"/>
<circle cx="140.30" cy="361.10" r="1.50" fill="#b83838"/>
<circle cx="155.10" cy="358.60" r="2.20" fill="#b83838"/>
<circle cx="174.80" cy="355.70" r="2.30" fill="#b83838"/>
<circle cx="179.00" cy="355.20" r="1.20" fill="#b83838"/>
<circle cx="184.80" cy="354.30" r="1.50" fill="#b83838"/>
<circle cx="270.50" cy="322.80" r="4.40" fill="#b83838"/>
<circle cx="279.30" cy="320.60" r="1.50" fill="#b83838"/>
<polyline points="25.30,375.30 283.20,375.30 283.20,320.40" fill="none" stroke="#000" stroke-width="1.8" stroke-linejoin="miter"/>
<line x1="25.30" y1="375.30" x2="283.20" y2="320.40" stroke="#cf7a2c" stroke-width="1.25"/>
<path d="M29.50,375.20 C29.93,374.98 30.58,374.73 32.10,373.90 C33.62,373.07 36.38,371.25 38.60,370.20 C40.82,369.15 42.85,368.37 45.40,367.60 C47.95,366.83 51.07,366.02 53.90,365.60 C56.73,365.18 59.28,365.10 62.40,365.10 C65.52,365.10 69.20,365.32 72.60,365.60 C76.00,365.88 79.40,366.38 82.80,366.80 C86.20,367.22 89.88,367.73 93.00,368.10 C96.12,368.47 99.57,368.82 101.50,369.00 C103.43,369.18 103.23,369.18 104.60,369.20 C105.97,369.22 108.08,369.20 109.70,369.10 C111.32,369.00 111.92,368.78 114.30,368.60 C116.68,368.42 120.80,368.30 124.00,368.00 C127.20,367.70 130.50,367.32 133.50,366.80 C136.50,366.28 139.17,365.67 142.00,364.90 C144.83,364.13 147.67,363.13 150.50,362.20 C153.33,361.27 156.75,360.22 159.00,359.30 C161.25,358.38 162.20,357.67 164.00,356.70 C165.80,355.73 167.87,354.53 169.80,353.50 C171.73,352.47 173.65,351.48 175.60,350.50 C177.55,349.52 179.77,348.63 181.50,347.60 C183.23,346.57 184.28,345.45 186.00,344.30 C187.72,343.15 189.87,341.77 191.80,340.70 C193.73,339.63 195.65,338.77 197.60,337.90 C199.55,337.03 201.55,336.32 203.50,335.50 C205.45,334.68 207.22,333.80 209.30,333.00 C211.38,332.20 213.08,331.60 216.00,330.70 C218.92,329.80 223.17,328.38 226.80,327.60 C230.43,326.82 234.33,326.43 237.80,326.00 C241.27,325.57 245.35,325.20 247.60,325.00 C249.85,324.80 248.38,325.03 251.30,324.80 C254.22,324.57 259.78,324.40 265.10,323.60 C270.42,322.80 280.18,320.60 283.20,320.00 L283.20,320.50 C280.18,321.15 270.42,323.40 265.10,324.40 C259.78,325.40 254.22,326.05 251.30,326.50 C248.38,326.95 249.85,326.70 247.60,327.10 C245.35,327.50 241.27,328.23 237.80,328.90 C234.33,329.57 230.43,330.32 226.80,331.10 C223.17,331.88 218.92,332.85 216.00,333.60 C213.08,334.35 211.38,334.88 209.30,335.60 C207.22,336.32 205.45,337.10 203.50,337.90 C201.55,338.70 199.55,339.42 197.60,340.40 C195.65,341.38 193.73,342.55 191.80,343.80 C189.87,345.05 187.72,346.65 186.00,347.90 C184.28,349.15 183.23,350.23 181.50,351.30 C179.77,352.37 177.55,353.40 175.60,354.30 C173.65,355.20 171.73,355.85 169.80,356.70 C167.87,357.55 165.80,358.52 164.00,359.40 C162.20,360.28 161.25,361.07 159.00,362.00 C156.75,362.93 153.33,364.23 150.50,365.00 C147.67,365.77 144.83,366.12 142.00,366.60 C139.17,367.08 136.50,367.55 133.50,367.90 C130.50,368.25 127.20,368.50 124.00,368.70 C120.80,368.90 116.68,368.97 114.30,369.10 C111.92,369.23 111.55,369.40 109.70,369.50 C107.85,369.60 105.42,369.50 103.20,369.70 C100.98,369.90 98.95,370.05 96.40,370.70 C93.85,371.35 90.73,372.42 87.90,373.60 C85.07,374.78 82.23,376.38 79.40,377.80 C76.57,379.22 73.73,380.97 70.90,382.10 C68.07,383.23 64.95,384.03 62.40,384.60 C59.85,385.17 57.58,385.43 55.60,385.50 C53.62,385.57 52.77,385.57 50.50,385.00 C48.23,384.43 44.55,383.22 42.00,382.10 C39.45,380.98 36.85,379.32 35.20,378.30 C33.55,377.28 33.05,376.47 32.10,376.00 C31.15,375.53 29.93,375.58 29.50,375.50 Z" fill="#5f9bf8" fill-opacity="0.560"/>
<clipPath id="bxC"><rect x="133.00" y="221.60" width="163.30" height="171.80"/></clipPath>
<path d="M29.50,375.20 C29.93,374.98 30.58,374.73 32.10,373.90 C33.62,373.07 36.38,371.25 38.60,370.20 C40.82,369.15 42.85,368.37 45.40,367.60 C47.95,366.83 51.07,366.02 53.90,365.60 C56.73,365.18 59.28,365.10 62.40,365.10 C65.52,365.10 69.20,365.32 72.60,365.60 C76.00,365.88 79.40,366.38 82.80,366.80 C86.20,367.22 89.88,367.73 93.00,368.10 C96.12,368.47 99.57,368.82 101.50,369.00 C103.43,369.18 103.23,369.18 104.60,369.20 C105.97,369.22 108.08,369.20 109.70,369.10 C111.32,369.00 111.92,368.78 114.30,368.60 C116.68,368.42 120.80,368.30 124.00,368.00 C127.20,367.70 130.50,367.32 133.50,366.80 C136.50,366.28 139.17,365.67 142.00,364.90 C144.83,364.13 147.67,363.13 150.50,362.20 C153.33,361.27 156.75,360.22 159.00,359.30 C161.25,358.38 162.20,357.67 164.00,356.70 C165.80,355.73 167.87,354.53 169.80,353.50 C171.73,352.47 173.65,351.48 175.60,350.50 C177.55,349.52 179.77,348.63 181.50,347.60 C183.23,346.57 184.28,345.45 186.00,344.30 C187.72,343.15 189.87,341.77 191.80,340.70 C193.73,339.63 195.65,338.77 197.60,337.90 C199.55,337.03 201.55,336.32 203.50,335.50 C205.45,334.68 207.22,333.80 209.30,333.00 C211.38,332.20 213.08,331.60 216.00,330.70 C218.92,329.80 223.17,328.38 226.80,327.60 C230.43,326.82 234.33,326.43 237.80,326.00 C241.27,325.57 245.35,325.20 247.60,325.00 C249.85,324.80 248.38,325.03 251.30,324.80 C254.22,324.57 259.78,324.40 265.10,323.60 C270.42,322.80 280.18,320.60 283.20,320.00 L283.20,320.50 C280.18,321.15 270.42,323.40 265.10,324.40 C259.78,325.40 254.22,326.05 251.30,326.50 C248.38,326.95 249.85,326.70 247.60,327.10 C245.35,327.50 241.27,328.23 237.80,328.90 C234.33,329.57 230.43,330.32 226.80,331.10 C223.17,331.88 218.92,332.85 216.00,333.60 C213.08,334.35 211.38,334.88 209.30,335.60 C207.22,336.32 205.45,337.10 203.50,337.90 C201.55,338.70 199.55,339.42 197.60,340.40 C195.65,341.38 193.73,342.55 191.80,343.80 C189.87,345.05 187.72,346.65 186.00,347.90 C184.28,349.15 183.23,350.23 181.50,351.30 C179.77,352.37 177.55,353.40 175.60,354.30 C173.65,355.20 171.73,355.85 169.80,356.70 C167.87,357.55 165.80,358.52 164.00,359.40 C162.20,360.28 161.25,361.07 159.00,362.00 C156.75,362.93 153.33,364.23 150.50,365.00 C147.67,365.77 144.83,366.12 142.00,366.60 C139.17,367.08 136.50,367.55 133.50,367.90 C130.50,368.25 127.20,368.50 124.00,368.70 C120.80,368.90 116.68,368.97 114.30,369.10 C111.92,369.23 111.55,369.40 109.70,369.50 C107.85,369.60 105.42,369.50 103.20,369.70 C100.98,369.90 98.95,370.05 96.40,370.70 C93.85,371.35 90.73,372.42 87.90,373.60 C85.07,374.78 82.23,376.38 79.40,377.80 C76.57,379.22 73.73,380.97 70.90,382.10 C68.07,383.23 64.95,384.03 62.40,384.60 C59.85,385.17 57.58,385.43 55.60,385.50 C53.62,385.57 52.77,385.57 50.50,385.00 C48.23,384.43 44.55,383.22 42.00,382.10 C39.45,380.98 36.85,379.32 35.20,378.30 C33.55,377.28 33.05,376.47 32.10,376.00 C31.15,375.53 29.93,375.58 29.50,375.50 Z" fill="#5f9bf8" fill-opacity="0.13" clip-path="url(#bxC)"/>
<path d="M32.10,374.10 C32.25,372.75 32.60,369.35 33.00,366.00 C33.40,362.65 34.07,358.00 34.50,354.00 C34.93,350.00 35.22,346.00 35.60,342.00 C35.98,338.00 36.30,335.17 36.80,330.00 C37.30,324.83 37.87,317.00 38.60,311.00 C39.33,305.00 40.35,299.67 41.20,294.00 C42.05,288.33 42.85,282.67 43.70,277.00 C44.55,271.33 45.47,265.05 46.30,260.00 C47.13,254.95 47.90,250.33 48.70,246.70 C49.50,243.07 50.10,240.73 51.10,238.20 C52.10,235.67 53.38,233.02 54.70,231.50 C56.02,229.98 57.48,229.00 59.00,229.10 C60.52,229.20 62.38,230.58 63.80,232.10 C65.22,233.62 66.28,235.57 67.50,238.20 C68.72,240.83 69.90,244.47 71.10,247.90 C72.30,251.33 73.60,255.08 74.70,258.80 C75.80,262.52 76.35,265.75 77.70,270.20 C79.05,274.65 81.10,280.40 82.80,285.50 C84.50,290.60 86.22,295.38 87.90,300.80 C89.58,306.22 91.38,313.13 92.90,318.00 C94.42,322.87 95.58,326.33 97.00,330.00 C98.42,333.67 99.53,336.67 101.40,340.00 C103.27,343.33 106.18,347.53 108.20,350.00 C110.22,352.47 111.65,353.47 113.50,354.80 C115.35,356.13 117.22,356.97 119.30,358.00 C121.38,359.03 123.80,360.30 126.00,361.00 C128.20,361.70 131.42,362.00 132.50,362.20 L132.50,362.20 C131.75,362.22 130.08,362.47 128.00,362.30 C125.92,362.13 122.87,361.83 120.00,361.20 C117.13,360.57 113.47,359.53 110.80,358.50 C108.13,357.47 106.13,356.42 104.00,355.00 C101.87,353.58 100.27,352.50 98.00,350.00 C95.73,347.50 92.60,343.33 90.40,340.00 C88.20,336.67 86.63,333.38 84.80,330.00 C82.97,326.62 81.43,323.15 79.40,319.70 C77.37,316.25 74.87,312.45 72.60,309.30 C70.33,306.15 68.07,302.72 65.80,300.80 C63.53,298.88 61.27,297.80 59.00,297.80 C56.73,297.80 54.18,298.60 52.20,300.80 C50.22,303.00 48.52,307.60 47.10,311.00 C45.68,314.40 44.68,318.03 43.70,321.20 C42.72,324.37 41.77,327.37 41.20,330.00 C40.63,332.63 40.75,334.50 40.30,337.00 C39.85,339.50 39.07,342.17 38.50,345.00 C37.93,347.83 37.40,351.50 36.90,354.00 C36.40,356.50 36.07,357.45 35.50,360.00 C34.93,362.55 34.07,366.95 33.50,369.30 C32.93,371.65 32.33,373.30 32.10,374.10 Z" fill="#980a0a" fill-opacity="0.625"/>
<path d="M132.50,362.10 C133.80,361.93 136.53,361.68 140.30,361.10 C144.07,360.52 149.35,359.50 155.10,358.60 C160.85,357.70 170.82,356.27 174.80,355.70 C178.78,355.13 177.33,355.43 179.00,355.20 C180.67,354.97 181.92,354.63 184.80,354.30 C187.68,353.97 192.68,353.80 196.30,353.20 C199.92,352.60 203.23,351.58 206.50,350.70 C209.77,349.82 212.52,349.25 215.90,347.90 C219.28,346.55 223.15,344.47 226.80,342.60 C230.45,340.73 234.15,338.67 237.80,336.70 C241.45,334.73 245.07,332.58 248.70,330.80 C252.33,329.02 256.68,327.23 259.60,326.00 C262.52,324.77 264.38,323.93 266.20,323.40 C268.02,322.87 268.32,323.27 270.50,322.80 C272.68,322.33 277.18,321.00 279.30,320.60 C281.42,320.20 282.55,320.43 283.20,320.40" fill="none" stroke="#980a0a" stroke-opacity="0.625" stroke-width="0.75"/>
<path d="M32.10,374.10 C32.50,371.42 33.68,363.68 34.50,358.00 C35.32,352.32 36.17,345.85 37.00,340.00 C37.83,334.15 38.67,328.87 39.50,322.90 C40.33,316.93 41.02,310.43 42.00,304.20 C42.98,297.97 43.98,291.45 45.40,285.50 C46.82,279.55 48.23,272.23 50.50,268.50 C52.77,264.77 56.17,263.10 59.00,263.10 C61.83,263.10 64.95,265.62 67.50,268.50 C70.05,271.38 72.05,275.65 74.30,280.40 C76.55,285.15 78.80,291.07 81.00,297.00 C83.20,302.93 85.58,310.67 87.50,316.00 C89.42,321.33 90.83,325.08 92.50,329.00 C94.17,332.92 95.58,336.25 97.50,339.50 C99.42,342.75 101.92,346.00 104.00,348.50 C106.08,351.00 108.00,352.92 110.00,354.50 C112.00,356.08 113.67,356.95 116.00,358.00 C118.33,359.05 121.25,360.12 124.00,360.80 C126.75,361.48 129.78,362.05 132.50,362.10 C135.22,362.15 136.53,361.68 140.30,361.10 C144.07,360.52 149.35,359.50 155.10,358.60 C160.85,357.70 170.82,356.27 174.80,355.70 C178.78,355.13 177.33,355.43 179.00,355.20 C180.67,354.97 181.92,354.63 184.80,354.30 C187.68,353.97 192.68,353.80 196.30,353.20 C199.92,352.60 203.23,351.58 206.50,350.70 C209.77,349.82 212.52,349.25 215.90,347.90 C219.28,346.55 223.15,344.47 226.80,342.60 C230.45,340.73 234.15,338.67 237.80,336.70 C241.45,334.73 245.07,332.58 248.70,330.80 C252.33,329.02 256.68,327.23 259.60,326.00 C262.52,324.77 264.38,323.93 266.20,323.40 C268.02,322.87 268.32,323.27 270.50,322.80 C272.68,322.33 277.18,321.00 279.30,320.60 C281.42,320.20 282.55,320.43 283.20,320.40" fill="none" stroke="#a82020" stroke-width="0.55" stroke-opacity="0.65"/>
</g>
<rect x="16.60" y="221.60" width="279.70" height="171.80" fill="none" stroke="#858585" stroke-width="1.2"/>
<line x1="14.30" y1="375.30" x2="16.10" y2="375.30" stroke="#333" stroke-width="1.0"/>
<text x="10.14" y="377.75" font-size="6.90" fill="#4d4d4d" stroke="#4d4d4d" stroke-width="0.08" textLength="3.40" lengthAdjust="spacingAndGlyphs">0</text>
<line x1="14.30" y1="320.40" x2="16.10" y2="320.40" stroke="#333" stroke-width="1.0"/>
<text x="10.20" y="322.85" font-size="6.90" fill="#4d4d4d" stroke="#4d4d4d" stroke-width="0.08" textLength="3.40" lengthAdjust="spacingAndGlyphs">1</text>
<line x1="14.30" y1="265.50" x2="16.10" y2="265.50" stroke="#333" stroke-width="1.0"/>
<text x="10.21" y="267.95" font-size="6.90" fill="#4d4d4d" stroke="#4d4d4d" stroke-width="0.08" textLength="3.40" lengthAdjust="spacingAndGlyphs">2</text>
<line x1="25.30" y1="393.90" x2="25.30" y2="395.70" stroke="#333" stroke-width="1.0"/>
<text x="19.36" y="401.70" font-size="6.90" fill="#4d4d4d" stroke="#4d4d4d" stroke-width="0.08" textLength="11.89" lengthAdjust="spacingAndGlyphs">0.00</text>
<line x1="89.77" y1="393.90" x2="89.77" y2="395.70" stroke="#333" stroke-width="1.0"/>
<text x="83.84" y="401.70" font-size="6.90" fill="#4d4d4d" stroke="#4d4d4d" stroke-width="0.08" textLength="11.89" lengthAdjust="spacingAndGlyphs">0.25</text>
<line x1="154.25" y1="393.90" x2="154.25" y2="395.70" stroke="#333" stroke-width="1.0"/>
<text x="148.31" y="401.70" font-size="6.90" fill="#4d4d4d" stroke="#4d4d4d" stroke-width="0.08" textLength="11.89" lengthAdjust="spacingAndGlyphs">0.50</text>
<line x1="218.72" y1="393.90" x2="218.72" y2="395.70" stroke="#333" stroke-width="1.0"/>
<text x="212.79" y="401.70" font-size="6.90" fill="#4d4d4d" stroke="#4d4d4d" stroke-width="0.08" textLength="11.89" lengthAdjust="spacingAndGlyphs">0.75</text>
<line x1="283.20" y1="393.90" x2="283.20" y2="395.70" stroke="#333" stroke-width="1.0"/>
<text x="277.14" y="401.70" font-size="6.90" fill="#4d4d4d" stroke="#4d4d4d" stroke-width="0.08" textLength="11.89" lengthAdjust="spacingAndGlyphs">1.00</text>
<text x="76.81" y="410.40" font-size="8.20" fill="#000" stroke="#000" stroke-width="0.08" textLength="159.60" lengthAdjust="spacingAndGlyphs">Cumulative fraction of population ranked by SDI</text>
<text x="-354.66" y="0" font-size="8.20" fill="#000" stroke="#000" stroke-width="0.08" textLength="94.10" lengthAdjust="spacingAndGlyphs" transform="translate(6.40 0) rotate(-90)">Cumulative fraction of DALY</text>
<text x="130.25" y="217.70" font-size="6.50" fill="#000" stroke="#000" stroke-width="0.08" textLength="52.29" lengthAdjust="spacingAndGlyphs">Diet high in sodium</text>
<text x="5.00" y="221.00" font-size="16.00" fill="#000" font-family='"Liberation Serif", serif' font-weight="bold" textLength="12.08" lengthAdjust="spacingAndGlyphs">C</text>
<text x="169.73" y="364.00" font-size="8.20" fill="#6f9cf2" stroke="#6f9cf2" stroke-width="0.08" textLength="98.54" lengthAdjust="spacingAndGlyphs">1990: 0.22(95%CI 0.05, 0.38)</text>
<text x="169.22" y="372.70" font-size="8.20" fill="#a52a2a" stroke="#a52a2a" stroke-width="0.08" textLength="98.85" lengthAdjust="spacingAndGlyphs">2021: 0.23(95%CI 0.11, 0.35)</text>
<text x="303.28" y="247.60" font-size="7.70" fill="#000" stroke="#000" stroke-width="0.08" textLength="35.92" lengthAdjust="spacingAndGlyphs">Population</text>
<text x="303.85" y="254.60" font-size="5.6" fill="#000" stroke="#000" stroke-width="0.15">*</text>
<text x="306.60" y="255.00" font-size="6.30" fill="#000" stroke="#000" stroke-width="0.08" textLength="8.80" lengthAdjust="spacingAndGlyphs">10</text>
<text x="315.17" y="252.80" font-size="3.30" fill="#000" stroke="#000" stroke-width="0.08" textLength="1.44" lengthAdjust="spacingAndGlyphs">6</text>
<circle cx="309.50" cy="265.90" r="1.23" fill="none" stroke="#4a4a4a" stroke-width="0.6"/>
<text x="318.90" y="268.50" font-size="6.60" fill="#000" stroke="#000" stroke-width="0.08" textLength="10.52" lengthAdjust="spacingAndGlyphs">200</text>
<circle cx="309.50" cy="277.74" r="1.48" fill="none" stroke="#4a4a4a" stroke-width="0.6"/>
<text x="318.90" y="280.32" font-size="6.60" fill="#000" stroke="#000" stroke-width="0.08" textLength="10.52" lengthAdjust="spacingAndGlyphs">400</text>
<circle cx="309.50" cy="289.58" r="1.73" fill="none" stroke="#4a4a4a" stroke-width="0.6"/>
<text x="318.90" y="292.14" font-size="6.60" fill="#000" stroke="#000" stroke-width="0.08" textLength="10.52" lengthAdjust="spacingAndGlyphs">600</text>
<circle cx="309.50" cy="301.42" r="1.93" fill="none" stroke="#4a4a4a" stroke-width="0.6"/>
<text x="318.90" y="303.96" font-size="6.60" fill="#000" stroke="#000" stroke-width="0.08" textLength="10.52" lengthAdjust="spacingAndGlyphs">800</text>
<circle cx="309.50" cy="313.26" r="2.13" fill="none" stroke="#4a4a4a" stroke-width="0.6"/>
<text x="318.90" y="315.78" font-size="6.60" fill="#000" stroke="#000" stroke-width="0.08" textLength="14.02" lengthAdjust="spacingAndGlyphs">1000</text>
<circle cx="309.50" cy="325.10" r="2.28" fill="none" stroke="#4a4a4a" stroke-width="0.6"/>
<text x="318.90" y="327.60" font-size="6.60" fill="#000" stroke="#000" stroke-width="0.08" textLength="14.02" lengthAdjust="spacingAndGlyphs">1200</text>
<text x="303.68" y="345.30" font-size="7.70" fill="#000" stroke="#000" stroke-width="0.08" textLength="19.44" lengthAdjust="spacingAndGlyphs">group</text>
<rect x="304.00" y="349.60" width="12" height="11.9" fill="#5f9bf8" fill-opacity="0.560"/>
<rect x="304.00" y="361.50" width="12" height="11.8" fill="#980a0a" fill-opacity="0.625"/>
<line x1="304.00" y1="355.30" x2="316.00" y2="355.30" stroke="#4f7fe0" stroke-width="0.6" stroke-opacity="0.35"/>
<line x1="304.00" y1="367.30" x2="316.00" y2="367.30" stroke="#a82020" stroke-width="0.6" stroke-opacity="0.65"/>
<circle cx="309.70" cy="355.20" r="1.4" fill="#72a3f8"/>
<circle cx="309.70" cy="367.30" r="1.45" fill="#a01212"/>
<text x="318.90" y="357.70" font-size="6.60" fill="#000" stroke="#000" stroke-width="0.08" textLength="14.02" lengthAdjust="spacingAndGlyphs">1990</text>
<text x="318.90" y="369.50" font-size="6.60" fill="#000" stroke="#000" stroke-width="0.08" textLength="14.02" lengthAdjust="spacingAndGlyphs">2021</text>
<clipPath id="clipD"><rect x="366.30" y="221.60" width="275.80" height="171.70"/></clipPath>
<g clip-path="url(#clipD)">
<circle cx="453.30" cy="332.70" r="3.20" fill="#7eacf9"/>
<circle cx="458.20" cy="333.30" r="1.00" fill="#7eacf9"/>
<circle cx="462.60" cy="333.00" r="1.30" fill="#7eacf9"/>
<circle cx="478.00" cy="332.50" r="1.50" fill="#7eacf9"/>
<circle cx="597.70" cy="295.50" r="4.30" fill="#7eacf9"/>
<circle cx="611.60" cy="294.10" r="1.80" fill="#7eacf9"/>
<circle cx="630.00" cy="290.80" r="1.50" fill="#7eacf9"/>
<circle cx="480.90" cy="331.40" r="4.50" fill="#b83838"/>
<circle cx="488.20" cy="331.00" r="1.50" fill="#b83838"/>
<circle cx="502.80" cy="329.90" r="2.00" fill="#b83838"/>
<circle cx="522.20" cy="327.40" r="2.20" fill="#b83838"/>
<circle cx="526.40" cy="327.20" r="1.20" fill="#b83838"/>
<circle cx="532.20" cy="326.60" r="1.50" fill="#b83838"/>
<circle cx="616.70" cy="293.50" r="4.40" fill="#b83838"/>
<circle cx="625.60" cy="291.30" r="1.60" fill="#b83838"/>
<polyline points="374.60,336.00 629.60,336.00 629.60,291.20" fill="none" stroke="#000" stroke-width="1.8" stroke-linejoin="miter"/>
<line x1="374.60" y1="336.00" x2="629.60" y2="291.20" stroke="#cf7a2c" stroke-width="1.25"/>
<path d="M378.50,335.80 C378.83,335.70 379.82,335.42 380.50,335.20 C381.18,334.98 379.98,335.00 382.60,334.50 C385.22,334.00 391.02,332.78 396.20,332.20 C401.38,331.62 407.87,331.05 413.70,331.00 C419.53,330.95 425.67,331.63 431.20,331.90 C436.73,332.17 443.17,332.48 446.90,332.60 C450.63,332.72 450.98,332.53 453.60,332.60 C456.22,332.67 459.87,333.00 462.60,333.00 C465.33,333.00 467.77,332.77 470.00,332.60 C472.23,332.43 474.17,332.20 476.00,332.00 C477.83,331.80 478.48,331.57 481.00,331.40 C483.52,331.23 487.47,331.60 491.10,331.00 C494.73,330.40 499.32,328.93 502.80,327.80 C506.28,326.67 509.05,325.50 512.00,324.20 C514.95,322.90 517.67,321.48 520.50,320.00 C523.33,318.52 526.58,316.77 529.00,315.30 C531.42,313.83 532.58,312.57 535.00,311.20 C537.42,309.83 540.67,308.42 543.50,307.10 C546.33,305.78 549.17,304.43 552.00,303.30 C554.83,302.17 557.67,301.08 560.50,300.30 C563.33,299.52 566.58,299.03 569.00,298.60 C571.42,298.17 572.43,298.10 575.00,297.70 C577.57,297.30 581.27,296.57 584.40,296.20 C587.53,295.83 591.58,295.62 593.80,295.50 C596.02,295.38 594.73,295.73 597.70,295.50 C600.67,295.27 606.28,294.90 611.60,294.10 C616.92,293.30 626.60,291.27 629.60,290.70 L629.60,291.20 C626.60,291.77 616.92,293.75 611.60,294.60 C606.28,295.45 600.67,296.00 597.70,296.30 C594.73,296.60 596.02,296.22 593.80,296.40 C591.58,296.58 587.53,296.82 584.40,297.40 C581.27,297.98 577.57,299.27 575.00,299.90 C572.43,300.53 571.42,300.63 569.00,301.20 C566.58,301.77 563.33,302.45 560.50,303.30 C557.67,304.15 554.83,305.03 552.00,306.30 C549.17,307.57 546.33,309.27 543.50,310.90 C540.67,312.53 537.42,314.58 535.00,316.10 C532.58,317.62 531.42,318.65 529.00,320.00 C526.58,321.35 523.33,323.00 520.50,324.20 C517.67,325.40 514.95,326.20 512.00,327.20 C509.05,328.20 506.28,329.27 502.80,330.20 C499.32,331.13 494.73,332.35 491.10,332.80 C487.47,333.25 483.52,332.87 481.00,332.90 C478.48,332.93 477.83,332.93 476.00,333.00 C474.17,333.07 472.23,333.22 470.00,333.30 C467.77,333.38 465.33,333.38 462.60,333.50 C459.87,333.62 456.22,333.63 453.60,334.00 C450.98,334.37 449.77,334.83 446.90,335.70 C444.03,336.57 439.90,337.73 436.40,339.20 C432.90,340.67 429.38,342.93 425.90,344.50 C422.42,346.07 418.40,347.63 415.50,348.60 C412.60,349.57 410.25,349.95 408.50,350.30 C406.75,350.65 406.17,350.67 405.00,350.70 C403.83,350.73 402.67,350.70 401.50,350.50 C400.33,350.30 399.17,349.93 398.00,349.50 C396.83,349.07 395.67,348.55 394.50,347.90 C393.33,347.25 392.17,346.43 391.00,345.60 C389.83,344.77 388.58,343.73 387.50,342.90 C386.42,342.07 385.33,341.18 384.50,340.60 C383.67,340.02 383.17,339.90 382.50,339.40 C381.83,338.90 381.17,338.13 380.50,337.60 C379.83,337.07 378.83,336.43 378.50,336.20 Z" fill="#5f9bf8" fill-opacity="0.560"/>
<clipPath id="bxD"><rect x="482.00" y="221.60" width="160.10" height="171.70"/></clipPath>
<path d="M378.50,335.80 C378.83,335.70 379.82,335.42 380.50,335.20 C381.18,334.98 379.98,335.00 382.60,334.50 C385.22,334.00 391.02,332.78 396.20,332.20 C401.38,331.62 407.87,331.05 413.70,331.00 C419.53,330.95 425.67,331.63 431.20,331.90 C436.73,332.17 443.17,332.48 446.90,332.60 C450.63,332.72 450.98,332.53 453.60,332.60 C456.22,332.67 459.87,333.00 462.60,333.00 C465.33,333.00 467.77,332.77 470.00,332.60 C472.23,332.43 474.17,332.20 476.00,332.00 C477.83,331.80 478.48,331.57 481.00,331.40 C483.52,331.23 487.47,331.60 491.10,331.00 C494.73,330.40 499.32,328.93 502.80,327.80 C506.28,326.67 509.05,325.50 512.00,324.20 C514.95,322.90 517.67,321.48 520.50,320.00 C523.33,318.52 526.58,316.77 529.00,315.30 C531.42,313.83 532.58,312.57 535.00,311.20 C537.42,309.83 540.67,308.42 543.50,307.10 C546.33,305.78 549.17,304.43 552.00,303.30 C554.83,302.17 557.67,301.08 560.50,300.30 C563.33,299.52 566.58,299.03 569.00,298.60 C571.42,298.17 572.43,298.10 575.00,297.70 C577.57,297.30 581.27,296.57 584.40,296.20 C587.53,295.83 591.58,295.62 593.80,295.50 C596.02,295.38 594.73,295.73 597.70,295.50 C600.67,295.27 606.28,294.90 611.60,294.10 C616.92,293.30 626.60,291.27 629.60,290.70 L629.60,291.20 C626.60,291.77 616.92,293.75 611.60,294.60 C606.28,295.45 600.67,296.00 597.70,296.30 C594.73,296.60 596.02,296.22 593.80,296.40 C591.58,296.58 587.53,296.82 584.40,297.40 C581.27,297.98 577.57,299.27 575.00,299.90 C572.43,300.53 571.42,300.63 569.00,301.20 C566.58,301.77 563.33,302.45 560.50,303.30 C557.67,304.15 554.83,305.03 552.00,306.30 C549.17,307.57 546.33,309.27 543.50,310.90 C540.67,312.53 537.42,314.58 535.00,316.10 C532.58,317.62 531.42,318.65 529.00,320.00 C526.58,321.35 523.33,323.00 520.50,324.20 C517.67,325.40 514.95,326.20 512.00,327.20 C509.05,328.20 506.28,329.27 502.80,330.20 C499.32,331.13 494.73,332.35 491.10,332.80 C487.47,333.25 483.52,332.87 481.00,332.90 C478.48,332.93 477.83,332.93 476.00,333.00 C474.17,333.07 472.23,333.22 470.00,333.30 C467.77,333.38 465.33,333.38 462.60,333.50 C459.87,333.62 456.22,333.63 453.60,334.00 C450.98,334.37 449.77,334.83 446.90,335.70 C444.03,336.57 439.90,337.73 436.40,339.20 C432.90,340.67 429.38,342.93 425.90,344.50 C422.42,346.07 418.40,347.63 415.50,348.60 C412.60,349.57 410.25,349.95 408.50,350.30 C406.75,350.65 406.17,350.67 405.00,350.70 C403.83,350.73 402.67,350.70 401.50,350.50 C400.33,350.30 399.17,349.93 398.00,349.50 C396.83,349.07 395.67,348.55 394.50,347.90 C393.33,347.25 392.17,346.43 391.00,345.60 C389.83,344.77 388.58,343.73 387.50,342.90 C386.42,342.07 385.33,341.18 384.50,340.60 C383.67,340.02 383.17,339.90 382.50,339.40 C381.83,338.90 381.17,338.13 380.50,337.60 C379.83,337.07 378.83,336.43 378.50,336.20 Z" fill="#5f9bf8" fill-opacity="0.13" clip-path="url(#bxD)"/>
<path d="M381.80,335.30 C381.93,333.98 382.15,331.35 382.60,327.40 C383.05,323.45 383.83,316.87 384.50,311.60 C385.17,306.33 386.08,299.73 386.60,295.80 C387.12,291.87 387.08,290.87 387.60,288.00 C388.12,285.13 388.95,282.27 389.70,278.60 C390.45,274.93 391.30,270.20 392.10,266.00 C392.90,261.80 393.58,257.60 394.50,253.40 C395.42,249.20 396.42,244.22 397.60,240.80 C398.78,237.38 399.93,234.80 401.60,232.90 C403.27,231.00 405.63,229.40 407.60,229.40 C409.57,229.40 411.52,230.73 413.40,232.90 C415.28,235.07 417.20,238.98 418.90,242.40 C420.60,245.82 422.02,249.47 423.60,253.40 C425.18,257.33 426.82,261.80 428.40,266.00 C429.98,270.20 431.67,275.10 433.10,278.60 C434.53,282.10 435.80,284.50 437.00,287.00 C438.20,289.50 439.17,291.33 440.30,293.60 C441.43,295.87 442.08,297.73 443.80,300.60 C445.52,303.47 448.73,308.15 450.60,310.80 C452.47,313.45 453.58,314.80 455.00,316.50 C456.42,318.20 457.60,319.58 459.10,321.00 C460.60,322.42 462.30,323.87 464.00,325.00 C465.70,326.13 467.63,327.07 469.30,327.80 C470.97,328.53 472.58,328.97 474.00,329.40 C475.42,329.83 476.65,330.07 477.80,330.40 C478.95,330.73 480.38,331.23 480.90,331.40 L480.90,332.00 C480.17,332.27 478.45,333.15 476.50,333.60 C474.55,334.05 471.63,334.22 469.20,334.70 C466.77,335.18 464.33,335.72 461.90,336.50 C459.47,337.28 456.80,338.22 454.60,339.40 C452.40,340.58 451.15,341.45 448.70,343.60 C446.25,345.75 442.82,348.95 439.90,352.30 C436.98,355.65 434.12,359.77 431.20,363.70 C428.28,367.63 425.02,372.70 422.40,375.90 C419.78,379.10 417.97,381.38 415.50,382.90 C413.03,384.42 410.23,385.58 407.60,385.00 C404.97,384.42 402.18,382.07 399.70,379.40 C397.22,376.73 394.73,373.07 392.70,369.00 C390.67,364.93 388.95,359.08 387.50,355.00 C386.05,350.92 384.95,347.78 384.00,344.50 C383.05,341.22 382.17,336.83 381.80,335.30 Z" fill="#980a0a" fill-opacity="0.625"/>
<path d="M480.90,331.10 C482.12,331.03 484.55,330.93 488.20,330.66 C491.85,330.39 497.13,330.11 502.80,329.50 C508.47,328.88 518.27,327.42 522.20,326.97 C526.13,326.51 524.72,326.90 526.40,326.76 C528.08,326.62 528.87,326.79 532.30,326.15 C535.73,325.50 542.28,324.05 547.00,322.90 C551.72,321.75 556.35,320.72 560.60,319.25 C564.85,317.77 568.53,316.04 572.50,314.05 C576.47,312.07 580.72,309.44 584.40,307.36 C588.08,305.27 591.20,303.25 594.60,301.54 C598.00,299.83 601.68,298.29 604.80,297.10 C607.92,295.90 611.32,295.03 613.30,294.38 C615.28,293.74 614.65,293.77 616.70,293.22 C618.75,292.66 623.45,291.44 625.60,291.07 C627.75,290.70 628.93,291.01 629.60,291.00 L629.60,291.40 C628.93,291.42 627.75,291.13 625.60,291.53 C623.45,291.92 618.75,293.20 616.70,293.78 C614.65,294.36 615.28,294.30 613.30,295.02 C611.32,295.74 607.92,296.76 604.80,298.11 C601.68,299.45 598.00,301.20 594.60,303.06 C591.20,304.91 588.08,307.06 584.40,309.24 C580.72,311.42 576.47,314.16 572.50,316.15 C568.53,318.13 564.85,319.80 560.60,321.15 C556.35,322.51 551.72,323.32 547.00,324.30 C542.28,325.28 535.73,326.50 532.30,327.06 C528.87,327.61 528.08,327.51 526.40,327.64 C524.72,327.77 526.13,327.39 522.20,327.83 C518.27,328.28 508.47,329.72 502.80,330.30 C497.13,330.89 491.85,331.11 488.20,331.34 C484.55,331.57 482.12,331.64 480.90,331.70 Z" fill="#980a0a" fill-opacity="0.625"/>
<path d="M381.80,335.30 C382.33,333.98 383.55,330.30 385.00,327.40 C386.45,324.50 388.27,320.93 390.50,317.90 C392.73,314.87 395.50,310.98 398.40,309.20 C401.30,307.42 404.73,307.20 407.90,307.20 C411.07,307.20 414.25,307.95 417.40,309.20 C420.55,310.45 423.65,312.60 426.80,314.70 C429.95,316.80 433.13,319.75 436.30,321.80 C439.47,323.85 443.18,325.67 445.80,327.00 C448.42,328.33 449.97,329.13 452.00,329.80 C454.03,330.47 455.13,330.70 458.00,331.00 C460.87,331.30 465.38,331.53 469.20,331.60 C473.02,331.67 477.73,331.50 480.90,331.40 C484.07,331.30 484.55,331.25 488.20,331.00 C491.85,330.75 497.13,330.50 502.80,329.90 C508.47,329.30 518.27,327.85 522.20,327.40 C526.13,326.95 524.72,327.33 526.40,327.20 C528.08,327.07 528.87,327.20 532.30,326.60 C535.73,326.00 542.28,324.67 547.00,323.60 C551.72,322.53 556.35,321.62 560.60,320.20 C564.85,318.78 568.53,317.08 572.50,315.10 C576.47,313.12 580.72,310.43 584.40,308.30 C588.08,306.17 591.20,304.08 594.60,302.30 C598.00,300.52 601.68,298.87 604.80,297.60 C607.92,296.33 611.32,295.38 613.30,294.70 C615.28,294.02 614.65,294.07 616.70,293.50 C618.75,292.93 623.45,291.68 625.60,291.30 C627.75,290.92 628.93,291.22 629.60,291.20" fill="none" stroke="#a82020" stroke-width="0.55" stroke-opacity="0.65"/>
</g>
<rect x="366.30" y="221.60" width="275.80" height="171.70" fill="none" stroke="#858585" stroke-width="1.2"/>
<line x1="364.00" y1="380.80" x2="365.80" y2="380.80" stroke="#333" stroke-width="1.0"/>
<text x="356.33" y="383.25" font-size="6.90" fill="#4d4d4d" stroke="#4d4d4d" stroke-width="0.08" textLength="6.96" lengthAdjust="spacingAndGlyphs">−1</text>
<line x1="364.00" y1="336.00" x2="365.80" y2="336.00" stroke="#333" stroke-width="1.0"/>
<text x="359.84" y="338.45" font-size="6.90" fill="#4d4d4d" stroke="#4d4d4d" stroke-width="0.08" textLength="3.40" lengthAdjust="spacingAndGlyphs">0</text>
<line x1="364.00" y1="291.20" x2="365.80" y2="291.20" stroke="#333" stroke-width="1.0"/>
<text x="359.90" y="293.65" font-size="6.90" fill="#4d4d4d" stroke="#4d4d4d" stroke-width="0.08" textLength="3.40" lengthAdjust="spacingAndGlyphs">1</text>
<line x1="364.00" y1="246.40" x2="365.80" y2="246.40" stroke="#333" stroke-width="1.0"/>
<text x="359.91" y="248.85" font-size="6.90" fill="#4d4d4d" stroke="#4d4d4d" stroke-width="0.08" textLength="3.40" lengthAdjust="spacingAndGlyphs">2</text>
<line x1="374.60" y1="393.80" x2="374.60" y2="395.60" stroke="#333" stroke-width="1.0"/>
<text x="368.66" y="401.60" font-size="6.90" fill="#4d4d4d" stroke="#4d4d4d" stroke-width="0.08" textLength="11.89" lengthAdjust="spacingAndGlyphs">0.00</text>
<line x1="438.35" y1="393.80" x2="438.35" y2="395.60" stroke="#333" stroke-width="1.0"/>
<text x="432.41" y="401.60" font-size="6.90" fill="#4d4d4d" stroke="#4d4d4d" stroke-width="0.08" textLength="11.89" lengthAdjust="spacingAndGlyphs">0.25</text>
<line x1="502.10" y1="393.80" x2="502.10" y2="395.60" stroke="#333" stroke-width="1.0"/>
<text x="496.16" y="401.60" font-size="6.90" fill="#4d4d4d" stroke="#4d4d4d" stroke-width="0.08" textLength="11.89" lengthAdjust="spacingAndGlyphs">0.50</text>
<line x1="565.85" y1="393.80" x2="565.85" y2="395.60" stroke="#333" stroke-width="1.0"/>
<text x="559.91" y="401.60" font-size="6.90" fill="#4d4d4d" stroke="#4d4d4d" stroke-width="0.08" textLength="11.89" lengthAdjust="spacingAndGlyphs">0.75</text>
<line x1="629.60" y1="393.80" x2="629.60" y2="395.60" stroke="#333" stroke-width="1.0"/>
<text x="623.54" y="401.60" font-size="6.90" fill="#4d4d4d" stroke="#4d4d4d" stroke-width="0.08" textLength="11.89" lengthAdjust="spacingAndGlyphs">1.00</text>
<text x="424.56" y="410.30" font-size="8.20" fill="#000" stroke="#000" stroke-width="0.08" textLength="159.60" lengthAdjust="spacingAndGlyphs">Cumulative fraction of population ranked by SDI</text>
<text x="-354.61" y="0" font-size="8.20" fill="#000" stroke="#000" stroke-width="0.08" textLength="94.10" lengthAdjust="spacingAndGlyphs" transform="translate(351.80 0) rotate(-90)">Cumulative fraction of DALY</text>
<text x="492.30" y="217.70" font-size="6.50" fill="#000" stroke="#000" stroke-width="0.08" textLength="23.92" lengthAdjust="spacingAndGlyphs">Smoking</text>
<text x="354.94" y="221.00" font-size="16.00" fill="#000" font-family='"Liberation Serif", serif' font-weight="bold" textLength="11.21" lengthAdjust="spacingAndGlyphs">D</text>
<text x="520.73" y="348.00" font-size="8.20" fill="#6f9cf2" stroke="#6f9cf2" stroke-width="0.08" textLength="98.54" lengthAdjust="spacingAndGlyphs">1990: 0.29(95%CI 0.10, 0.47)</text>
<text x="520.22" y="356.70" font-size="8.20" fill="#a52a2a" stroke="#a52a2a" stroke-width="0.08" textLength="99.05" lengthAdjust="spacingAndGlyphs">2021: 0.42(95%CI 0.26, 0.59)</text>
<text x="649.28" y="247.60" font-size="7.70" fill="#000" stroke="#000" stroke-width="0.08" textLength="35.92" lengthAdjust="spacingAndGlyphs">Population</text>
<text x="649.85" y="254.60" font-size="5.6" fill="#000" stroke="#000" stroke-width="0.15">*</text>
<text x="652.60" y="255.00" font-size="6.30" fill="#000" stroke="#000" stroke-width="0.08" textLength="8.80" lengthAdjust="spacingAndGlyphs">10</text>
<text x="661.17" y="252.80" font-size="3.30" fill="#000" stroke="#000" stroke-width="0.08" textLength="1.44" lengthAdjust="spacingAndGlyphs">6</text>
<circle cx="655.50" cy="265.90" r="1.23" fill="none" stroke="#4a4a4a" stroke-width="0.6"/>
<text x="664.90" y="268.50" font-size="6.60" fill="#000" stroke="#000" stroke-width="0.08" textLength="10.52" lengthAdjust="spacingAndGlyphs">200</text>
<circle cx="655.50" cy="277.74" r="1.48" fill="none" stroke="#4a4a4a" stroke-width="0.6"/>
<text x="664.90" y="280.32" font-size="6.60" fill="#000" stroke="#000" stroke-width="0.08" textLength="10.52" lengthAdjust="spacingAndGlyphs">400</text>
<circle cx="655.50" cy="289.58" r="1.73" fill="none" stroke="#4a4a4a" stroke-width="0.6"/>
<text x="664.90" y="292.14" font-size="6.60" fill="#000" stroke="#000" stroke-width="0.08" textLength="10.52" lengthAdjust="spacingAndGlyphs">600</text>
<circle cx="655.50" cy="301.42" r="1.93" fill="none" stroke="#4a4a4a" stroke-width="0.6"/>
<text x="664.90" y="303.96" font-size="6.60" fill="#000" stroke="#000" stroke-width="0.08" textLength="10.52" lengthAdjust="spacingAndGlyphs">800</text>
<circle cx="655.50" cy="313.26" r="2.13" fill="none" stroke="#4a4a4a" stroke-width="0.6"/>
<text x="664.90" y="315.78" font-size="6.60" fill="#000" stroke="#000" stroke-width="0.08" textLength="14.02" lengthAdjust="spacingAndGlyphs">1000</text>
<circle cx="655.50" cy="325.10" r="2.28" fill="none" stroke="#4a4a4a" stroke-width="0.6"/>
<text x="664.90" y="327.60" font-size="6.60" fill="#000" stroke="#000" stroke-width="0.08" textLength="14.02" lengthAdjust="spacingAndGlyphs">1200</text>
<text x="649.68" y="345.30" font-size="7.70" fill="#000" stroke="#000" stroke-width="0.08" textLength="19.44" lengthAdjust="spacingAndGlyphs">group</text>
<rect x="650.00" y="349.60" width="12" height="11.9" fill="#5f9bf8" fill-opacity="0.560"/>
<rect x="650.00" y="361.50" width="12" height="11.8" fill="#980a0a" fill-opacity="0.625"/>
<line x1="650.00" y1="355.30" x2="662.00" y2="355.30" stroke="#4f7fe0" stroke-width="0.6" stroke-opacity="0.35"/>
<line x1="650.00" y1="367.30" x2="662.00" y2="367.30" stroke="#a82020" stroke-width="0.6" stroke-opacity="0.65"/>
<circle cx="655.70" cy="355.20" r="1.4" fill="#72a3f8"/>
<circle cx="655.70" cy="367.30" r="1.45" fill="#a01212"/>
<text x="664.90" y="357.70" font-size="6.60" fill="#000" stroke="#000" stroke-width="0.08" textLength="14.02" lengthAdjust="spacingAndGlyphs">1990</text>
<text x="664.90" y="369.50" font-size="6.60" fill="#000" stroke="#000" stroke-width="0.08" textLength="14.02" lengthAdjust="spacingAndGlyphs">2021</text>
</svg>
</body></html>
